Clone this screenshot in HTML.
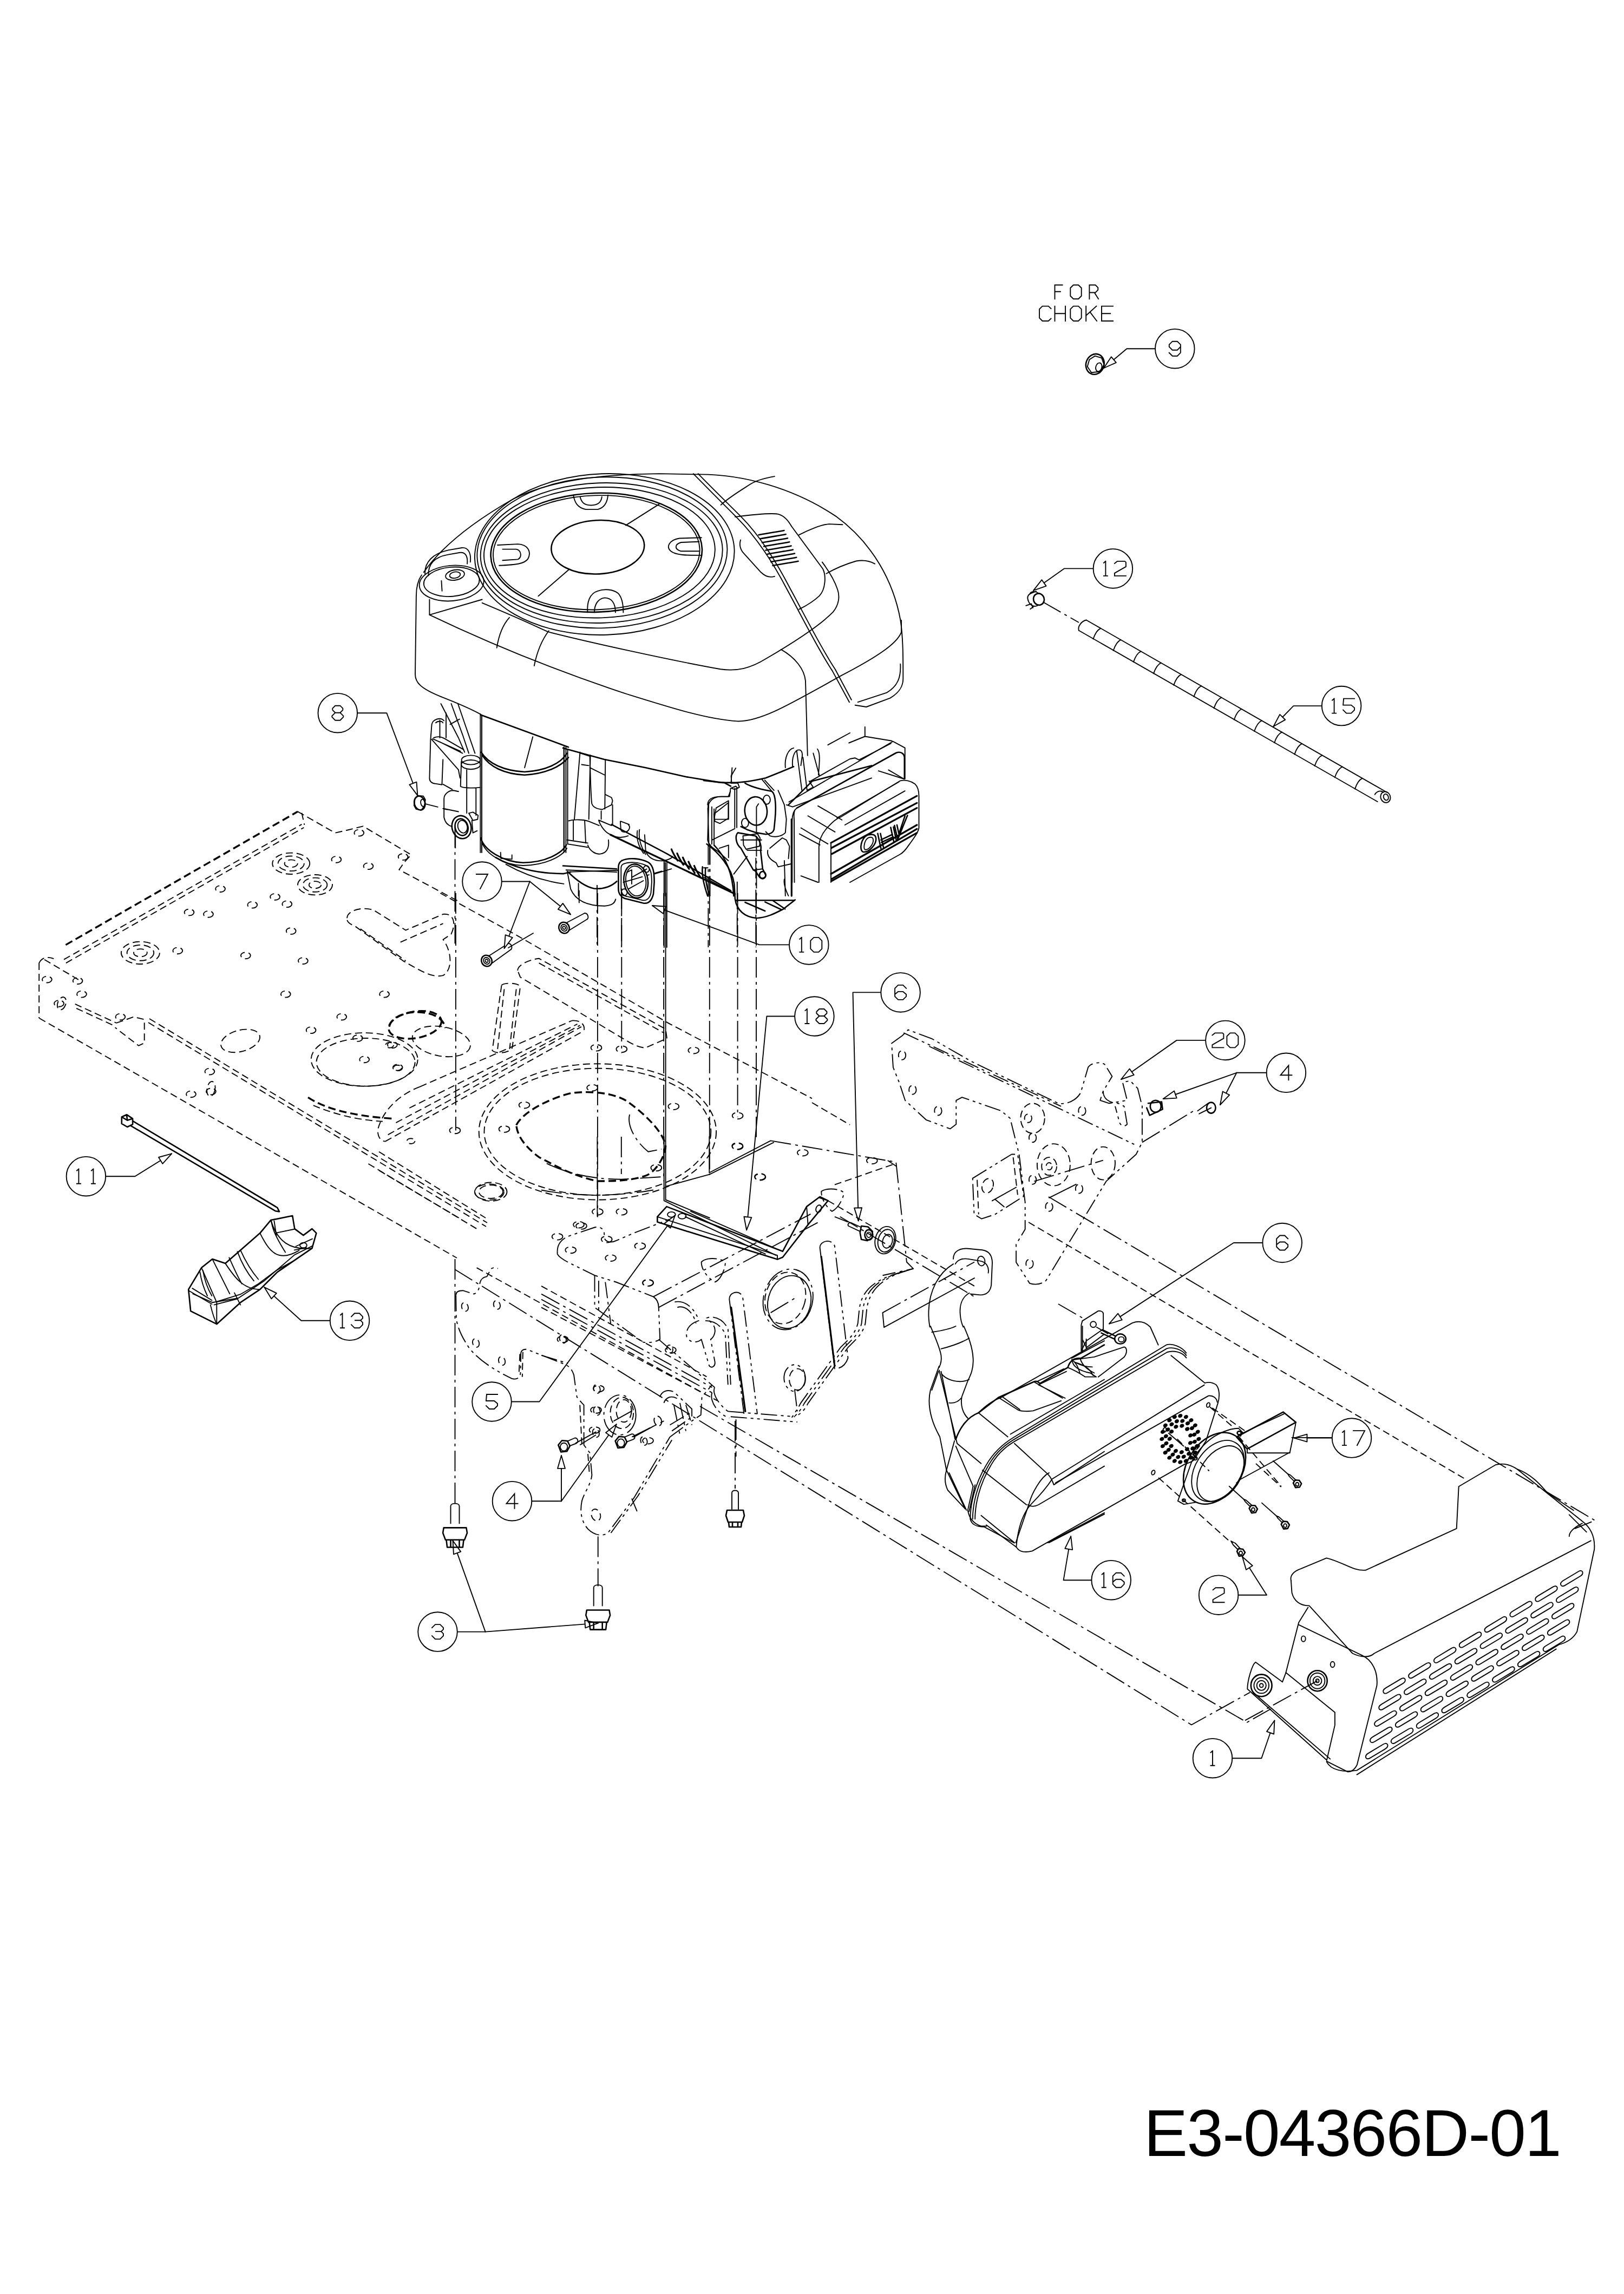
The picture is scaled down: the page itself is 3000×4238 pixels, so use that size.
<!DOCTYPE html>
<html><head><meta charset="utf-8"><title>E3-04366D-01</title><style>
html,body{margin:0;padding:0;background:#fff;}
svg{display:block}
svg *{vector-effect:non-scaling-stroke;fill:none;stroke:#000;stroke-width:1.9;stroke-linecap:round;stroke-linejoin:round}
svg .b{stroke-width:2.6}
svg .bb{stroke-width:3.2}
svg .g{stroke-width:1.9;stroke-linecap:square;stroke-linejoin:miter}
svg .ar{fill:#fff;stroke-width:1.9}
svg .d{stroke-dasharray:13 7;stroke-linecap:butt}
svg .db{stroke-width:3.4;stroke-dasharray:14 7;stroke-linecap:butt}
svg .dd{stroke-dasharray:38 8 5 8;stroke-linecap:butt}
svg .ph{stroke-dasharray:30 7 5 7 5 7;stroke-linecap:butt}
svg .f{fill:#000}
.t{position:absolute;left:2113px;top:3881px;letter-spacing:-1.7px;font-family:"Liberation Sans",sans-serif;font-size:121.5px;line-height:1;color:#000;white-space:nowrap}
</style></head>
<body><div style="position:relative;width:3000px;height:4238px;overflow:hidden;background:#fff">
<svg width="3000" height="4238" viewBox="0 0 3000 4238">
<path d="M 782.7,1057.3 C 809.1,1019.6 859.3,972.5 947.3,922.2 C 1016.3,887.7 1104.3,876.4 1217.3,875.1 L 1286.4,876.4 C 1374.3,875.1 1468.6,903.4 1543.9,953.6 C 1613,1003.9 1650.7,1076.1 1663.3,1145.2 C 1668.3,1176.6 1668.3,1214.3 1668.3,1253.8 C 1668.3,1267.7 1662,1279 1644.4,1289.6 L 1600.4,1306 L 1579.7,1302.8"/>
<path d="M 1663.3,1226.8 C 1664.5,1252 1658.2,1267.7 1638.1,1279.6 L 1584.7,1297.2"/>
<path d="M 778.9,1062.3 C 771.4,1073 768.9,1085.5 768.9,1101.2 L 767,1245.7 C 767,1261.4 777.7,1272.1 814.7,1287.1"/>
<path d="M 814.7,1287.1 C 840.5,1297.2 865.6,1307.2 888.2,1319.8"/>
<path d="M 1352.4,1418.4 L 1350.5,1446.7"/>
<path d="M 793.4,1135.8 C 865.6,1170.3 991.2,1226.8 1153.9,1280.9 C 1242.4,1308.5 1305.3,1328.6 1361.8,1332.4 C 1405.7,1333.6 1462.3,1299.1 1554,1248.2 C 1619.3,1214.3 1657,1189.2 1665.1,1167.8 L 1665.1,1145.8"/>
<path d="M 890.7,1113.8 C 928.4,1129.5 978.7,1151.5 1012,1167.2 C 1085.4,1186 1242.4,1220.6 1331,1236.3 C 1361.8,1240.7 1386.9,1234.4 1415.2,1216.8 C 1462.3,1189.2 1512.5,1157.8 1538.9,1130.7 C 1550.2,1116.9 1551.5,1101.2 1547.1,1088.7 C 1540.8,1069.8 1528.2,1051 1518.8,1038.4"/>
<path d="M 917.7,1196.7 C 920.9,1176.6 928.4,1154.6 941,1140.8"/>
<path d="M 986.8,1230 C 991.2,1208 1000.6,1182.9 1013.8,1165.3"/>
<path d="M 793.4,1107.5 L 793.4,1135.8 M 793.4,1135.8 L 890.7,1107.5"/>
<ellipse cx="1116.8" cy="1024" rx="239.9" ry="148.9" transform="rotate(-2 1116.8 1024)"/>
<ellipse cx="1112.4" cy="1020.8" rx="231.1" ry="139.4" transform="rotate(-2 1112.4 1020.8)"/>
<ellipse cx="1111.2" cy="1021.5" rx="223.6" ry="129.4" transform="rotate(-2 1111.2 1021.5)"/>
<ellipse cx="1107.4" cy="1020.8" rx="213.5" ry="120.6" transform="rotate(-2 1107.4 1020.8)"/>
<ellipse class="b" cx="1101.8" cy="1020.8" rx="195.3" ry="109.9" transform="rotate(-2 1101.8 1020.8)"/>
<ellipse cx="1101.8" cy="1020.8" rx="190.9" ry="105.5" transform="rotate(-2 1101.8 1020.8)"/>
<ellipse class="b" cx="1104.3" cy="1010.8" rx="86" ry="49.6" transform="rotate(-3 1104.3 1010.8)"/>
<path d="M 994.4,1101.2 L 1050.9,1052.2 M 1155.8,970.6 L 1217.3,931.6"/>
<path d="M 1059.1,914.7 C 1061.6,928.5 1066.6,937.9 1082.3,941.1 L 1104.3,941.1 C 1116.8,937.9 1121.9,928.5 1123.1,914.7 M 1071.6,917.8 C 1074.1,928.5 1079.2,932.9 1091.7,933.5 C 1104.3,932.9 1110.6,928.5 1111.8,917.8"/>
<path d="M 919,1007 L 956.7,1005.1 C 975.5,1005.8 981.8,1019.6 975.5,1032.1 C 969.2,1041.6 953.5,1043.4 922.1,1044.7 M 928.4,1014.6 L 953.5,1014.6 C 963,1016.4 964.8,1029 956.7,1033.4 L 928.4,1035.3"/>
<path d="M 1295.8,993.2 L 1255,994.5 C 1236.2,997.6 1229.9,1010.2 1239.3,1018.3 C 1248.7,1025.9 1267.6,1025.9 1295.8,1025.9 M 1291.4,1000.7 L 1258.2,1002 C 1245.6,1005.8 1245.6,1014.6 1258.2,1018.3 L 1291.4,1018.3"/>
<path d="M 1085.4,1131.4 C 1084.2,1113.8 1088.6,1096.2 1104.3,1091.8 C 1116.8,1087.4 1132.5,1088.7 1142,1096.2 C 1149.5,1104.4 1151.4,1116.9 1151.4,1131.4 M 1098,1131.4 C 1098,1116.9 1104.3,1106.2 1116.8,1104.4 C 1129.4,1104.4 1136.9,1113.8 1136.9,1131.4"/>
<ellipse cx="834.2" cy="1077.4" rx="59.7" ry="32.7" transform="rotate(-5 834.2 1077.4)"/>
<ellipse cx="834.2" cy="1074.8" rx="51.5" ry="27" transform="rotate(-5 834.2 1074.8)"/>
<path d="M 785.2,1060.4 C 784,1038.4 799.7,1022.7 827.9,1016.4 L 853.1,1012 C 865.6,1010.8 870.6,1022.7 868.8,1038.4"/>
<path d="M 791.5,1063.5 C 790.2,1041.6 802.8,1029 827.9,1024.6 L 849.9,1020.8 C 860.6,1019.6 864.4,1029 863.1,1041.6"/>
<ellipse cx="840.5" cy="1062.3" rx="17.6" ry="9.4" transform="rotate(-10 840.5 1062.3)"/>
<ellipse cx="840.5" cy="1062.3" rx="10" ry="5.7" transform="rotate(-10 840.5 1062.3)"/>
<path d="M 815.4,1073 L 816.6,1091.8"/>
<path d="M 1280.8,875.1 C 1305.3,900.2 1336.7,931.6 1361.8,956.8 C 1399.5,994.5 1430.9,1044.7 1454.1,1089.3 C 1481.1,1138.9 1512.5,1201.7 1537.6,1239.4 L 1569,1297.2"/>
<path d="M 1289.6,875.1 C 1312.8,899 1342.9,928.5 1368.1,953.6 C 1405.7,991.3 1435.9,1041.6 1459.1,1086.2 C 1486.1,1135.8 1517.5,1198.6 1542.7,1236.3 L 1572.8,1292.8"/>
<path d="M 1331.6,932.9 C 1346.1,919.1 1369.3,905.3 1386.9,894 C 1399.5,886.4 1415.2,882.7 1430.9,880.1"/>
<path d="M 1476.1,988.2 C 1493.7,978.8 1516.9,969.3 1531.4,968.1 L 1556.5,969.3"/>
<path d="M 1526.3,1059.8 C 1543.9,1049.7 1564,1041.6 1581.6,1036.5 C 1595.4,1034 1606.7,1036.5 1616.1,1041.6"/>
<path d="M 1358,954.9 C 1393.2,950.5 1424.6,947.3 1437.8,949.9 C 1449.7,953.6 1456,961.8 1462.3,972.5 L 1520.1,1051 C 1526.3,1063.5 1525.1,1088.7 1513.8,1100.6 C 1503.1,1110.6 1487.4,1120.1 1476.1,1125.7"/>
<path d="M 1368.1,997.6 C 1364.9,1007 1368.1,1016.4 1374.3,1022.7 L 1405.7,1057.3 C 1415.2,1066.7 1424.6,1066.7 1430.9,1064.8"/>
<path class="b" d="M 1401.3,988.2 C 1417.1,985 1435.9,982.5 1448.5,980"/>
<path class="b" d="M 1404.6,995.3 C 1420.3,992.1 1439.2,989.6 1451.7,987.1"/>
<path class="b" d="M 1407.9,1002.4 C 1423.6,999.2 1442.4,996.7 1455,994.2"/>
<path class="b" d="M 1411.1,1009.5 C 1426.8,1006.3 1445.7,1003.8 1458.3,1001.3"/>
<path class="b" d="M 1414.4,1016.6 C 1430.1,1013.4 1449,1010.9 1461.5,1008.4"/>
<path class="b" d="M 1417.7,1023.7 C 1433.4,1020.5 1452.2,1018 1464.8,1015.5"/>
<path class="b" d="M 1420.9,1030.8 C 1436.6,1027.6 1455.5,1025.1 1468,1022.6"/>
<path class="b" d="M 1424.2,1037.9 C 1439.9,1034.7 1458.8,1032.2 1471.3,1029.7"/>
<path class="b" d="M 1427.5,1045 C 1443.2,1041.8 1462,1039.3 1474.6,1036.8"/>
<path d="M 1442.8,1199.8 C 1468.6,1214.3 1486.1,1236.3 1488,1258.2 L 1491.8,1395.8"/>
<path d="M 1457.4,1481.5 L 1649.5,1369.7 L 1671.7,1381.7 L 1671.7,1439"/>
<path d="M 1496.2,1443.6 L 1570.1,1402 L 1579.3,1400.2 L 1586.7,1403.9 L 1607,1393.7 L 1645.8,1373.4"/>
<path d="M 1568.2,1372.5 L 1597.8,1360.5 L 1647.7,1368.8 M 1597.8,1360.5 L 1597.8,1342.9 M 1529.4,1376.2 L 1570.1,1354"/>
<path class="b" d="M 1472.2,1492.6 L 1655.1,1391 C 1664.3,1387.3 1670.8,1392.8 1670.8,1400.2 L 1670.8,1439"/>
<path d="M 1472.2,1492.6 C 1464.8,1498.1 1463.3,1507.3 1463.3,1516.6 L 1463.3,1630 M 1468.5,1496.3 C 1465.7,1501.8 1466.6,1507.3 1467,1514.7 L 1467.5,1630"/>
<path d="M 1512.8,1568.3 C 1511.9,1551.7 1520.2,1536.9 1531.3,1525.8 C 1538.7,1518.4 1544.2,1512.9 1553.4,1509.2 L 1662.4,1442.7 C 1671.7,1439.9 1682.8,1442.7 1690.1,1448.2 C 1695.7,1453.8 1697.5,1463 1697.5,1470.4 L 1697.5,1529.5 C 1695.7,1538.7 1688.3,1548 1679.1,1560.9 C 1671.7,1572 1668,1575.7 1662.4,1578.5 L 1570.1,1630"/>
<path d="M 1512.8,1568.3 L 1512.8,1630 M 1535,1557.2 L 1535,1630"/>
<path d="M 1492.5,1507.3 L 1542.4,1536.9"/>
<path d="M 1479.6,1529.5 L 1529.4,1559.1"/>
<path d="M 1476.8,1540.6 L 1514.7,1560.9"/>
<path d="M 1511,1488.9 L 1555.3,1514.7"/>
<path d="M 1622.7,1424.2 L 1669.8,1439"/>
<path d="M 1641.2,1422.4 L 1669.8,1439"/>
<path d="M 1546.1,1511 L 1660.6,1444.5"/>
<path d="M 1560.8,1524 L 1671.7,1461.2"/>
<path d="M 1479.6,1618.2 L 1511,1630"/>
<path class="bb" d="M 1535,1557.2 L 1693.8,1470.4"/>
<path class="bb" d="M 1535.9,1566.5 L 1693.8,1483.3"/>
<path class="bb" d="M 1536.8,1577.5 L 1693.8,1492.6"/>
<path class="bb" d="M 1535,1614.5 L 1693.8,1524"/>
<path class="bb" d="M 1536.8,1623.7 L 1693.8,1531.4"/>
<path class="bb" d="M 1536.8,1627.4 L 1693.8,1538.7"/>
<path class="b" d="M 1603.3,1542.4 C 1590.4,1548 1586.7,1570.1 1594.1,1573.8 C 1605.2,1575.7 1620,1559.1 1618.1,1548 C 1617.2,1541.5 1610.7,1540.6 1603.3,1542.4 Z"/>
<path d="M 1604.2,1547.6 C 1596.3,1551.7 1594.5,1567.9 1598.2,1569.8 C 1605.2,1570.1 1614,1559.1 1613.1,1551.1 C 1612.4,1546.5 1608.9,1545.8 1604.2,1547.6 Z"/>
<path class="b" d="M 1621.4,1539.7 L 1627.3,1567.4 M 1626.4,1539.7 L 1632,1565.5 M 1645.4,1528.6 L 1651.4,1556.3 M 1650.4,1527.7 L 1656,1553.5 M 1627.3,1551.7 L 1648.6,1541.5 M 1628.3,1556.3 L 1649.9,1546.1"/>
<path class="b" d="M 1652.3,1524.9 L 1658.4,1550.8 L 1676.3,1506.4 M 1656.9,1524 L 1660.6,1540.6 L 1671.7,1507.3"/>
<path d="M 887.4,1319.1 L 887.4,1575.1 M 890,1321 L 890,1575.1"/>
<path class="b" d="M 888.9,1389.7 C 902.3,1410.7 930.9,1424.1 969.1,1426 C 1007.2,1424.1 1035.9,1410.7 1047.3,1391.6"/>
<path class="b" d="M 890.8,1395.4 C 904.2,1416.4 930.9,1429.8 969.1,1431.7 C 1007.2,1429.8 1035.9,1416.4 1050,1399.3"/>
<path d="M 984.3,1361.1 L 969.1,1418.3"/>
<path d="M 1041.6,1380.2 L 1041.6,1575.1 M 1045.4,1380.2 L 1045.4,1575.1"/>
<path class="b" d="M 888.9,1321 L 1050,1380.2"/>
<path d="M 814.4,1300 L 846.9,1363 L 858.3,1389.7 M 833.5,1300 L 854.5,1357.3 L 866,1391.6 M 845.9,1300 L 877.4,1391.6"/>
<ellipse cx="869.8" cy="1404" rx="17.2" ry="8.6"/>
<ellipse cx="869.8" cy="1412.6" rx="17.6" ry="8.6"/>
<path d="M 852.2,1406.9 L 850.7,1452.7 C 854.5,1455.6 873.6,1456.5 887.4,1454.6 M 862.2,1422.2 L 862.2,1502.3 M 879.3,1456.5 L 879.3,1506.2"/>
<path d="M 803,1330.5 C 799.2,1332.5 797.3,1336.3 797.3,1342 L 795.4,1366.8 L 793.4,1437.4 C 793.4,1443.2 797.3,1447 804.9,1447.9 L 816.4,1449.8 L 818.3,1403.1"/>
<path d="M 797.3,1365.9 L 846.9,1422.2 L 849.8,1437.4 M 812.5,1370.6 L 854.5,1391.6 M 799.2,1364.9 L 850.7,1387.8 M 801.1,1363 C 806.8,1360.7 814.4,1360.7 820.2,1363.9 L 856.4,1384.9"/>
<path d="M 803,1330.5 C 808.7,1326.7 816.4,1326.7 820.2,1331.5 M 804.9,1335.3 C 808.7,1331.5 816.4,1331.5 818.3,1335.3 M 812.5,1330.5 L 812.5,1363 M 824,1317.2 L 824,1363 M 831.6,1338.2 L 848.8,1328.6"/>
<path d="M 818.3,1448.9 L 835.4,1458.4"/>
<path d="M 820.2,1475.6 C 820.2,1466.1 829.7,1460.3 837.4,1460.3 L 846.9,1462.3 M 820.2,1475.6 L 820.2,1510 C 822.1,1519.5 827.8,1525.2 835.4,1527.2 M 819.2,1493.8 L 846.9,1499.5"/>
<ellipse class="b" cx="852.6" cy="1528.1" rx="17.6" ry="21.4" transform="rotate(-15 852.6 1528.1)"/>
<ellipse class="b" cx="852.6" cy="1528.1" rx="11.8" ry="15.7" transform="rotate(-15 852.6 1528.1)"/>
<ellipse cx="854.5" cy="1527.2" rx="8.6" ry="11.8" transform="rotate(-15 854.5 1527.2)"/>
<path d="M 866,1502.3 L 873.6,1500.4 L 883.2,1506.2 L 882.2,1513.8 L 873.6,1515.7 Z M 871.7,1515.7 L 873.6,1538.6 L 881.3,1534.8"/>
<ellipse class="b" cx="775.3" cy="1483.6" rx="9.9" ry="13" transform="rotate(-15 775.3 1483.6)"/>
<path d="M 766.7,1475.6 L 772.5,1469.9 L 782,1470.8 L 785.8,1477.5 L 783.9,1489 L 778.2,1496.6 L 768.6,1494.7 L 764.8,1488 Z"/>
<ellipse cx="781" cy="1483.3" rx="3.8" ry="6.7" transform="rotate(-10 781 1483.3)"/>
<path d="M 785.8,1485.2 L 808.7,1490.9 M 818.3,1493.8 L 825.9,1495.7"/>
<path class="dd" d="M 841.2,1540.5 L 841.2,1567.2"/>
<path class="b" d="M 1040,1381.9 L 1116.4,1402.9 L 1192.7,1418.2 L 1269.1,1435.4 L 1326.3,1444.9 L 1337.8,1445.9 L 1350,1452.5"/>
<path d="M 1041.9,1380 L 1041.9,1570.9 M 1048.6,1385.7 L 1048.6,1559.4"/>
<path d="M 1071.5,1389.5 L 1061,1513.6 M 1090.6,1395.3 L 1087.7,1513.6 M 1118.3,1402.9 L 1117.3,1494.5"/>
<path d="M 1089.6,1395.3 C 1090.6,1437.3 1091.5,1475.4 1093.4,1485 C 1095.4,1490.7 1103,1494.5 1112.5,1495.5 L 1129.7,1486.9 L 1131.6,1479.3 L 1129.7,1473.5 L 1118.3,1467.8"/>
<path d="M 1110.6,1498.3 L 1110.6,1513.6 M 1131.6,1486.9 L 1131.6,1523.2 M 1072.5,1391.5 L 1089.6,1397.2 M 1074.4,1412.5 L 1087.7,1414.4 M 1089.6,1418.2 L 1116.4,1431.5"/>
<path d="M 1050.5,1516.5 C 1059.1,1513.6 1078.2,1513.6 1087.7,1517.4 L 1106.8,1525.1 M 1059.1,1515.5 L 1059.1,1551.8 M 1080.1,1516.5 L 1082,1557.5"/>
<path d="M 1085.8,1561.3 C 1089.6,1572.8 1101.1,1578.5 1108.7,1577.6 C 1120.2,1576.6 1125.9,1567.1 1124,1551.8 M 1047.6,1551.8 L 1085.8,1557.5 M 1049.5,1559.4 L 1085.8,1565.2"/>
<path class="bb" d="M 1127.8,1542.3 L 1357.8,1651.6"/>
<path class="b" d="M 1129.7,1523.2 L 1230.9,1576.6 L 1350,1645.3"/>
<path d="M 1105.9,1515.5 C 1110.6,1528.9 1120.2,1540.3 1129.7,1542.3 M 1106.8,1515.5 L 1129.7,1525.1"/>
<path d="M 1145.9,1517.4 L 1146.9,1532.7 C 1148.8,1538.4 1158.3,1539.4 1162.2,1531.8 C 1164.1,1527 1162.2,1525.1 1160.3,1523.2 M 1146.9,1517.4 L 1162.2,1523.2 M 1129.7,1542.3 C 1139.3,1548 1150.7,1548 1160.3,1544.2"/>
<path d="M 1177.4,1534.6 C 1175.5,1548 1179.3,1563.3 1188.9,1576.6 M 1181.3,1532.7 C 1179.3,1546.1 1182.2,1561.3 1192.7,1578.5"/>
<path d="M 1190.8,1542.3 L 1192.7,1570.9 C 1196.5,1586.2 1211.8,1591.9 1227.1,1590 C 1236.6,1588.1 1242.3,1584.2 1242.3,1582.3"/>
<path class="bb" d="M 1240.4,1569 C 1244.2,1578.5 1248.1,1584.2 1251.9,1590"/>
<path class="bb" d="M 1250.9,1576.6 C 1254.7,1586.2 1258.6,1591.9 1262.4,1597.6"/>
<path class="bb" d="M 1261.4,1584.2 C 1265.2,1593.8 1269.1,1599.5 1272.9,1605.2"/>
<path class="bb" d="M 1271.9,1591.9 C 1275.7,1601.4 1279.6,1607.2 1283.4,1612.9"/>
<path class="bb" d="M 1282.4,1599.5 C 1286.2,1609.1 1290.1,1614.8 1293.9,1620.5"/>
<path class="b" d="M 1297.7,1601.4 C 1295.8,1618.6 1301.5,1637.7 1307.2,1655.1 M 1303.4,1603.3 C 1301.5,1620.5 1305.3,1637.7 1311.1,1655.1"/>
<path class="dd" d="M 1311.1,1559.4 L 1311.1,1655.1"/>
<path d="M 1307.2,1486.9 C 1307.2,1475.4 1316.8,1471.6 1332.1,1471.6 L 1345.4,1471.6 L 1349.2,1462.1 M 1309.2,1483.1 L 1307.2,1551.8 C 1309.2,1561.3 1316.8,1567.1 1326.3,1572.8 L 1345.4,1590"/>
<path d="M 1318.7,1504.1 L 1345.4,1483.1 L 1345.4,1511.7 L 1330.1,1521.3 L 1320.6,1517.4 Z M 1314.9,1490.7 L 1314.9,1559.4"/>
<path class="b" d="M 1040,1599.5 L 1139.3,1605.2"/>
<path d="M 1045.7,1607.2 L 1139.3,1611"/>
<path class="b" d="M 1049.5,1611 C 1059.1,1620.5 1078.2,1637.7 1097.3,1641.5 C 1116.4,1643.4 1131.6,1635.8 1139.3,1628.2"/>
<path d="M 1068.6,1632 L 1068.6,1655.1 M 1208,1614.8 L 1240.4,1605.2 M 1229,1593.8 L 1229,1655.1"/>
<path class="dd" d="M 1150.7,1630.1 L 1223.3,1609.1"/>
<path class="b" d="M 1300,1442 L 1334.4,1445.9 L 1353.4,1445.9 C 1366.8,1445.9 1385.9,1443.9 1414.5,1437.3 L 1443.2,1425.8 L 1466.1,1416.3"/>
<path d="M 1351.5,1446.8 L 1350.6,1433.4 L 1359.2,1419.1 M 1350.6,1446.8 L 1363,1446.8 L 1365.9,1454.4 L 1357.3,1458.3 L 1351.5,1456.4"/>
<path class="b" d="M 1376.4,1446.8 C 1391.6,1456.4 1418.3,1460.2 1426,1462.1 C 1433.6,1467.8 1433.6,1494.5 1431.7,1513.6 L 1429.8,1532.7 C 1427.9,1538.4 1422.2,1541.3 1414.5,1541.3 L 1397.4,1538.4 L 1380.2,1532.7 L 1368.7,1527"/>
<path d="M 1406.9,1439.2 L 1426,1462.1 M 1412.6,1441.1 L 1429.8,1460.2"/>
<ellipse class="b" cx="1396.4" cy="1498.3" rx="20.6" ry="26.3" transform="rotate(-5 1396.4 1498.3)"/>
<ellipse cx="1416.4" cy="1477.4" rx="6.5" ry="8.4"/>
<ellipse cx="1376.4" cy="1520.3" rx="6.5" ry="8.4"/>
<path d="M 1397.4,1490.7 L 1397.4,1540.3 M 1401.2,1485 L 1397.4,1490.7"/>
<path class="dd" d="M 1397.4,1544.2 L 1397.4,1655.1"/>
<path class="b" d="M 1363,1538.4 C 1357.3,1544.2 1359.2,1559.4 1368.7,1567.1 L 1391.6,1607.2 L 1395.4,1609.1 L 1403.1,1620.5 C 1406.9,1624.3 1414.5,1622.4 1414.5,1616.7 L 1408.8,1605.2 L 1405,1570.9 C 1406.9,1565.2 1405,1551.8 1395.4,1544.2 Z"/>
<path d="M 1372.5,1544.2 L 1399.3,1540.3 L 1404,1548 L 1403.1,1563.3 L 1378.3,1569 L 1373.5,1561.3 Z M 1368.7,1551.8 L 1406.9,1551.8 M 1380.2,1570.9 L 1406.9,1570.9 M 1391.6,1607.2 L 1408.8,1605.2"/>
<ellipse class="b" cx="1408.8" cy="1616.7" rx="5.7" ry="6.7"/>
<path d="M 1307.6,1494.5 C 1307.6,1479.3 1319.1,1471.6 1332.5,1471.6 L 1347.7,1471.6 L 1349.6,1456.4 L 1359.2,1452.5 L 1363,1456.4"/>
<path d="M 1319.1,1513.6 L 1345.8,1513.6 L 1345.8,1479.3 L 1322.9,1492.6 Z M 1357.3,1456.4 L 1357.3,1528.9 M 1361.1,1456.4 L 1361.1,1528.9 M 1319.1,1494.5 L 1319.1,1561.3 M 1307.6,1494.5 L 1309.5,1559.4"/>
<path class="dd" d="M 1311.5,1559.4 L 1311.5,1655.1"/>
<path class="b" d="M 1319.1,1561.3 C 1338.2,1580.4 1353.4,1609.1 1355.4,1655.1"/>
<path d="M 1300,1603.3 L 1307.6,1603.3 M 1328.6,1567.1 L 1345.8,1561.3 L 1345.8,1584.2 M 1355.4,1614.8 L 1380.2,1582.3 M 1315.3,1551.8 L 1357.3,1530.8 M 1300,1620.5 L 1357.3,1651.1"/>
<path d="M 1414.5,1536.5 L 1422.2,1544.2 C 1433.6,1548 1445.1,1544.2 1450.8,1538.4 L 1452.7,1513.6 L 1448.9,1486.9 L 1437.4,1460.2"/>
<path d="M 1418.3,1570.9 C 1416.4,1580.4 1422.2,1588.1 1433.6,1593.8 L 1437.4,1601.4 L 1462.3,1595.7 M 1422.2,1567.1 L 1445.1,1548 L 1452.7,1551.8 L 1458.4,1563.3 L 1456.5,1586.2"/>
<path class="bb" d="M 1462.3,1513.6 L 1462.3,1655.1"/>
<path class="b" d="M 1456.5,1486.9 L 1496.6,1446.8 L 1500.4,1443 L 1610,1414.4"/>
<path d="M 1452.7,1486.9 L 1464.2,1490.7 L 1610,1437.3"/>
<path d="M 1450.8,1418.2 C 1448.9,1399.1 1456.5,1383.8 1466.1,1381.9 M 1464.2,1416.3 C 1462.3,1399.1 1468,1387.6 1473.7,1385.7 C 1481.3,1383.8 1483.3,1391.5 1481.3,1401 L 1479.4,1414.4 M 1471.8,1387.6 L 1481.3,1460.2 M 1483.3,1399.1 L 1490.9,1460.2"/>
<path d="M 1494.7,1443 L 1502.3,1454.4 L 1490.9,1460.2 M 1502.3,1391.5 L 1513.8,1433.4 M 1510,1383.8 C 1515.7,1391.5 1513.8,1408.6 1511.9,1431.5"/>
<path d="M 1448.9,1624.3 C 1447,1633.9 1452.7,1647.2 1456.5,1655.1 M 1448.9,1590 L 1450.8,1655.1"/>
<path class="b" d="M 888.2,1548.1 C 893.9,1570.1 928.4,1592.1 966.1,1593.7 C 1007,1593.7 1038.4,1576.4 1046.2,1560.7"/>
<path d="M 890.1,1556 C 897,1576.4 928.4,1598.4 966.1,1599 C 1007,1598.4 1038.4,1582.7 1047.2,1567"/>
<path d="M 924.7,1574.8 L 925.3,1585.8 L 945.7,1587.4 L 945.7,1579.5"/>
<path class="b" d="M 915.9,1584.2 C 944.1,1601.5 991.3,1614.1 1041.5,1614.1 L 1054.1,1610.9"/>
<path d="M 934.7,1596.8 C 959.8,1610.9 997.5,1626.6 1041.5,1632.9"/>
<path d="M 1047.8,1609.4 L 1054.1,1642.3 C 1063.5,1664.3 1085.5,1673.7 1116.9,1673.7 C 1132.6,1672.2 1135.7,1667.5 1137.3,1661.2"/>
<path d="M 1069.8,1645.5 L 1069.8,1667.5 M 1049.4,1610.9 L 1142,1607.8"/>
<ellipse class="b" cx="1042" cy="1714" rx="9.5" ry="10.5" transform="rotate(-30 1042 1714)"/>
<ellipse cx="1042" cy="1714" rx="5.5" ry="6.5" transform="rotate(-30 1042 1714)"/>
<ellipse cx="1042" cy="1714" rx="2.5" ry="3" transform="rotate(-30 1042 1714)"/>
<path d="M 1046,1705 L 1080,1687 M 1051,1719 L 1085,1698"/>
<path d="M 1080,1687 C 1086,1687 1088,1695 1085,1698"/>
<ellipse class="b" cx="899" cy="1775" rx="9.5" ry="10.5" transform="rotate(-30 899 1775)"/>
<ellipse cx="899" cy="1775" rx="5.5" ry="6.5" transform="rotate(-30 899 1775)"/>
<ellipse cx="899" cy="1775" rx="2.5" ry="3" transform="rotate(-30 899 1775)"/>
<path d="M 903,1766 L 939,1743 M 908,1780 L 944,1754"/>
<path d="M 939,1743 C 945,1743 947,1751 944,1754"/>
<path d="M 939,1751 L 985,1724"/>
<path class="dd" d="M 840.5,1528.3 L 840.5,1750"/>
<path class="dd" d="M 1103,1635.1 L 1103,1750"/>
<path class="dd" d="M 1148.2,1641.4 L 1148.2,1750"/>
<path class="dd" d="M 1308.4,1559.7 L 1308.4,1750"/>
<path class="dd" d="M 1361.8,1628.8 L 1361.8,1750"/>
<path class="dd" d="M 1396.3,1584.8 L 1396.3,1750"/>
<path d="M 1226.7,1591.1 L 1226.7,1750 M 1231.8,1594.3 L 1231.8,1750"/>
<path class="b" d="M 1305.5,1559.2 C 1327.1,1574.6 1351.7,1602.3 1356.3,1633.1 L 1357.9,1660.8 C 1361,1682.4 1376.4,1694.7 1397.9,1696.2 C 1419.5,1694.7 1434.9,1685.5 1447.2,1679.3 L 1468.7,1662.4"/>
<path class="b" d="M 1359.4,1663.3 L 1467.2,1663.3 M 1376.4,1667 L 1413.3,1683 M 1413.3,1666.4 L 1444.1,1680.8 M 1428.7,1664.5 L 1450.2,1679.3"/>
<path class="b" d="M 1148.5,1590 C 1160.8,1583.9 1182.4,1585.4 1197.8,1593.1 C 1207,1599.3 1208.6,1611.6 1208.6,1630 L 1207,1651.6 C 1203.9,1663.9 1197.8,1670.1 1188.5,1668.5 L 1157.8,1660.8 C 1148.5,1659.3 1142.4,1651.6 1142.4,1642.4 L 1142.4,1602.3 C 1142.4,1596.2 1143.9,1593.1 1148.5,1590 Z"/>
<path d="M 1151.6,1596.2 C 1162.4,1591.6 1179.3,1592.5 1193.2,1598.6 C 1202.4,1603.9 1203.9,1613.1 1203.9,1630 L 1202.4,1650.1 C 1200.2,1659.3 1194.7,1663.9 1187.9,1663.3 L 1158.4,1656.2 C 1151,1654.7 1147.3,1649.1 1147.3,1641.7 L 1147.3,1603.9 C 1147.3,1599.9 1148.5,1597.7 1151.6,1596.2 Z"/>
<ellipse class="b" cx="1174.7" cy="1627.6" rx="22.2" ry="31.4" transform="rotate(-8 1174.7 1627.6)"/>
<ellipse cx="1174.7" cy="1627.6" rx="18.5" ry="27.7" transform="rotate(-8 1174.7 1627.6)"/>
<ellipse cx="1194.1" cy="1605.4" rx="5.5" ry="6.2"/>
<ellipse cx="1153.1" cy="1648.5" rx="5.5" ry="6.2"/>
<path d="M 1157.8,1611.6 L 1167,1607 L 1167,1633.1 M 1167,1620.8 L 1194.7,1605.4 M 1160.8,1642.4 L 1188.5,1627"/>
<path class="g" d="M 1962.6,526.5 L 1948.5,526.5 L 1948.5,552.3 M 1948.5,538.7 L 1958.9,538.7"/>
<path class="g" d="M 1982.9,526.5 L 1992.1,526.5 L 1997.7,532 L 1997.7,546.8 L 1992.1,552.3 L 1982.9,552.3 L 1977.3,546.8 L 1977.3,532 Z"/>
<path class="g" d="M 2012.4,552.3 L 2012.4,526.5 L 2023.5,526.5 L 2028.3,531.3 L 2028.3,535.7 L 2023.5,540.5 L 2012.4,540.5 M 2021.7,540.5 L 2029.1,552.3"/>
<path class="g" d="M 1941.5,570.1 L 1936.7,565.6 L 1925.6,565.6 L 1920.1,571.2 L 1920.1,587.4 L 1925.6,593 L 1936.7,593 L 1941.5,588.5"/>
<path class="g" d="M 1948.5,565.6 L 1948.5,593 M 1968.1,565.6 L 1968.1,593 M 1948.5,579.3 L 1968.1,579.3"/>
<path class="g" d="M 1982.9,565.6 L 1992.1,565.6 L 1997.7,571.2 L 1997.7,587.4 L 1992.1,593 L 1982.9,593 L 1977.3,587.4 L 1977.3,571.2 Z"/>
<path class="g" d="M 2006.2,565.6 L 2006.2,593 M 2025.4,565.6 L 2006.2,583 M 2013.5,576.4 L 2026.1,593"/>
<path class="g" d="M 2056,565.6 L 2035,565.6 L 2035,593 L 2056,593 M 2035,579.3 L 2051.2,579.3"/>
<ellipse class="b" cx="2022.8" cy="672.8" rx="16.6" ry="19.2" transform="rotate(20 2022.8 672.8)"/>
<path d="M 2012.4,664.3 L 2022.8,657.6 L 2035,661.3 L 2039.4,673.5 L 2032.8,686.5 L 2016.1,688.3 L 2008.7,677.2 Z"/>
<ellipse cx="2029.8" cy="678.3" rx="5.5" ry="8.1" transform="rotate(15 2029.8 678.3)"/>
<circle cx="2170.3" cy="644.2" r="36.3"/>
<path class="g" d="M 2180.8,640.7 L 2174.8,646.7 L 2165.8,646.7 L 2159.8,640.7 L 2159.8,636.7 L 2165.8,630.7 L 2174.8,630.7 L 2180.8,636.7 L 2180.8,651.7 L 2174.8,657.7 L 2165.8,657.7 L 2159.8,651.7"/>
<path d="M2133.8,644.2 L2081.5,644.2 L2039,680"/>
<path class="ar" d="M2039,680 L2052.8,659.2 L2061.9,669.9 Z"/>
<circle cx="2055.9" cy="1050.4" r="36.3"/>
<path class="g" d="M 2042.4,1036.9 L 2042.4,1063.9 M 2038.9,1063.9 L 2045.9,1063.9 M 2042.4,1036.9 L 2038.9,1039.9"/>
<path class="g" d="M 2058.9,1040.9 L 2063.9,1036.9 L 2077.9,1036.9 L 2079.9,1038.9 L 2079.9,1046.9 L 2058.9,1058.9 L 2058.9,1063.9 L 2079.9,1063.9"/>
<path d="M2019.6,1050.4 L1965.8,1050.4 L1909,1090.8"/>
<path class="ar" d="M1909,1090.8 L1924.5,1071.2 L1932.6,1082.6 Z"/>
<circle cx="2478.1" cy="1304.1" r="36.3"/>
<path class="g" d="M 2464.6,1290.6 L 2464.6,1317.6 M 2461.1,1317.6 L 2468.1,1317.6 M 2464.6,1290.6 L 2461.1,1293.6"/>
<path class="g" d="M 2502.1,1290.6 L 2482.1,1290.6 L 2481.1,1302.6 L 2496.1,1302.6 L 2502.1,1307.6 L 2502.1,1311.6 L 2496.1,1317.6 L 2487.1,1317.6 L 2481.1,1311.6"/>
<path d="M2441.8,1304.1 L2389.4,1304.1 L2352.5,1342"/>
<path class="ar" d="M2352.5,1342 L2364.2,1319.9 L2374.3,1329.7 Z"/>
<circle cx="623.8" cy="1317.2" r="36.3"/>
<path class="g" d="M 619.3,1303.7 L 628.3,1303.7 L 633.3,1308.7 L 633.3,1311.7 L 628.3,1316.7 L 619.3,1316.7 L 614.3,1311.7 L 614.3,1308.7 Z M 619.3,1316.7 L 628.3,1316.7 L 634.3,1322.7 L 634.3,1324.7 L 628.3,1330.7 L 619.3,1330.7 L 613.3,1324.7 L 613.3,1322.7 Z"/>
<path d="M660.1,1317.2 L714.3,1317.2 L771.4,1469.6"/>
<path class="ar" d="M771.4,1469.6 L756.4,1449.6 L769.5,1444.7 Z"/>
<circle cx="890.5" cy="1628.5" r="36.3"/>
<path class="g" d="M 880,1615 L 901,1615 L 887,1642"/>
<path d="M926.8,1628.5 L978.7,1628.5"/>
<path d="M978.7,1628.5 L1054,1689.4"/>
<path class="ar" d="M1054,1689.4 L1030.9,1679.8 L1039.7,1668.9 Z"/>
<path d="M978.7,1628.5 L931.6,1752"/>
<path class="ar" d="M931.6,1752 L933.6,1727.1 L946.7,1732.1 Z"/>
<circle cx="1494.3" cy="1745.4" r="36.3"/>
<path class="g" d="M 1480.8,1731.9 L 1480.8,1758.9 M 1477.3,1758.9 L 1484.3,1758.9 M 1480.8,1731.9 L 1477.3,1734.9"/>
<path class="g" d="M 1503.3,1731.9 L 1512.3,1731.9 L 1518.3,1737.9 L 1518.3,1752.9 L 1512.3,1758.9 L 1503.3,1758.9 L 1497.3,1752.9 L 1497.3,1737.9 Z"/>
<path d="M1458,1745.4 L1402.8,1745.4 L1205,1673"/>
<path class="ar" d="M1205,1673 L1229.9,1674.7 L1225.1,1687.8 Z"/>
<circle cx="1663.6" cy="1833.4" r="36.3"/>
<path class="g" d="M 1674.1,1825.9 L 1668.1,1819.9 L 1659.1,1819.9 L 1653.1,1825.9 L 1653.1,1840.9 L 1659.1,1846.9 L 1668.1,1846.9 L 1674.1,1840.9 L 1674.1,1836.9 L 1668.1,1831.9 L 1659.1,1831.9 L 1653.1,1836.9"/>
<path d="M1627.3,1833.4 L1575.5,1833.4 L1585.7,2255.4"/>
<path class="ar" d="M1585.7,2255.4 L1578.1,2231.6 L1592.1,2231.2 Z"/>
<circle cx="1504.4" cy="1877.5" r="36.3"/>
<path class="g" d="M 1490.9,1864 L 1490.9,1891 M 1487.4,1891 L 1494.4,1891 M 1490.9,1864 L 1487.4,1867"/>
<path class="g" d="M 1513.4,1864 L 1522.4,1864 L 1527.4,1869 L 1527.4,1872 L 1522.4,1877 L 1513.4,1877 L 1508.4,1872 L 1508.4,1869 Z M 1513.4,1877 L 1522.4,1877 L 1528.4,1883 L 1528.4,1885 L 1522.4,1891 L 1513.4,1891 L 1507.4,1885 L 1507.4,1883 Z"/>
<path d="M1468.1,1877.5 L1416.4,1877.5 L1379.1,2272.3"/>
<path class="ar" d="M1379.1,2272.3 L1374.4,2247.7 L1388.3,2249.1 Z"/>
<circle cx="2263.4" cy="1921.9" r="36.3"/>
<path class="g" d="M 2239.4,1912.4 L 2244.4,1908.4 L 2258.4,1908.4 L 2260.4,1910.4 L 2260.4,1918.4 L 2239.4,1930.4 L 2239.4,1935.4 L 2260.4,1935.4"/>
<path class="g" d="M 2272.4,1908.4 L 2281.4,1908.4 L 2287.4,1914.4 L 2287.4,1929.4 L 2281.4,1935.4 L 2272.4,1935.4 L 2266.4,1929.4 L 2266.4,1914.4 Z"/>
<path d="M2227.1,1921.9 L2173.6,1921.9 L2071,1994"/>
<path class="ar" d="M2071,1994 L2086.6,1974.5 L2094.7,1985.9 Z"/>
<circle cx="2375.9" cy="1981.8" r="36.3"/>
<path class="g" d="M 2380.4,1995.3 L 2380.4,1968.3 L 2365.4,1986.3 L 2386.4,1986.3"/>
<path d="M2339.6,1981.8 L2284.4,1981.8"/>
<path d="M2284.4,1981.8 L2148.7,2030"/>
<path class="ar" d="M2148.7,2030 L2169,2015.4 L2173.7,2028.6 Z"/>
<path d="M2284.4,1981.8 L2254,2041"/>
<path class="ar" d="M2254,2041 L2258.7,2016.5 L2271.2,2022.8 Z"/>
<circle cx="2368.7" cy="2296" r="36.3"/>
<path class="g" d="M 2379.2,2288.5 L 2373.2,2282.5 L 2364.2,2282.5 L 2358.2,2288.5 L 2358.2,2303.5 L 2364.2,2309.5 L 2373.2,2309.5 L 2379.2,2303.5 L 2379.2,2299.5 L 2373.2,2294.5 L 2364.2,2294.5 L 2358.2,2299.5"/>
<path d="M2332.4,2296 L2278.9,2296 L2048.9,2445.6"/>
<path class="ar" d="M2048.9,2445.6 L2065.2,2426.6 L2072.8,2438.4 Z"/>
<circle cx="158.9" cy="2173.2" r="36.3"/>
<path class="g" d="M 145.4,2159.7 L 145.4,2186.7 M 141.9,2186.7 L 148.9,2186.7 M 145.4,2159.7 L 141.9,2162.7"/>
<path class="g" d="M 172.4,2159.7 L 172.4,2186.7 M 168.9,2186.7 L 175.9,2186.7 M 172.4,2159.7 L 168.9,2162.7"/>
<path d="M195.2,2173.2 L249.4,2173.2 L317.1,2131.3"/>
<path class="ar" d="M317.1,2131.3 L300.4,2149.9 L293,2138 Z"/>
<circle cx="646" cy="2439.8" r="36.3"/>
<path class="g" d="M 632.5,2426.3 L 632.5,2453.3 M 629,2453.3 L 636,2453.3 M 632.5,2426.3 L 629,2429.3"/>
<path class="g" d="M 649,2432.3 L 655,2426.3 L 664,2426.3 L 670,2432.3 L 670,2435.3 L 666,2439.3 L 656,2439.3 M 666,2439.3 L 670,2443.3 L 670,2447.3 L 664,2453.3 L 655,2453.3 L 649,2447.3"/>
<path d="M609.7,2439.8 L556.4,2439.8 L488.3,2378.1"/>
<path class="ar" d="M488.3,2378.1 L510.8,2389 L501.4,2399.4 Z"/>
<circle cx="908.5" cy="2589.5" r="36.3"/>
<path class="g" d="M 919,2576 L 899,2576 L 898,2588 L 913,2588 L 919,2593 L 919,2597 L 913,2603 L 904,2603 L 898,2597"/>
<path d="M944.8,2589.5 L996.4,2589.5 L1247,2245.2"/>
<path class="ar" d="M1247,2245.2 L1238.5,2268.7 L1227.2,2260.5 Z"/>
<circle cx="946" cy="2773.2" r="36.3"/>
<path class="g" d="M 950.5,2786.7 L 950.5,2759.7 L 935.5,2777.7 L 956.5,2777.7"/>
<path d="M982.3,2773.2 L1037,2773.2"/>
<path d="M1037,2773.2 L1037,2688.9"/>
<path class="ar" d="M1037,2688.9 L1044,2712.9 L1030,2712.9 Z"/>
<path d="M1037,2773.2 L1138.7,2631.3"/>
<path class="ar" d="M1138.7,2631.3 L1130.4,2654.9 L1119,2646.7 Z"/>
<circle cx="808.5" cy="3014.6" r="36.3"/>
<path class="g" d="M 798,3007.1 L 804,3001.1 L 813,3001.1 L 819,3007.1 L 819,3010.1 L 815,3014.1 L 805,3014.1 M 815,3014.1 L 819,3018.1 L 819,3022.1 L 813,3028.1 L 804,3028.1 L 798,3022.1"/>
<path d="M844.8,3014.6 L896.6,3014.6"/>
<path d="M896.6,3014.6 L836.5,2846.4"/>
<path class="ar" d="M836.5,2846.4 L851.2,2866.6 L838,2871.4 Z"/>
<path d="M896.6,3014.6 L1104.7,2998.6"/>
<path class="ar" d="M1104.7,2998.6 L1081.3,3007.4 L1080.2,2993.5 Z"/>
<circle cx="2497" cy="2656.6" r="36.3"/>
<path class="g" d="M 2483.5,2643.1 L 2483.5,2670.1 M 2480,2670.1 L 2487,2670.1 M 2483.5,2643.1 L 2480,2646.1"/>
<path class="g" d="M 2500,2643.1 L 2521,2643.1 L 2507,2670.1"/>
<path d="M2460.7,2656.6 L2390.5,2656.6"/>
<path class="ar" d="M2390.5,2656.6 L2414.5,2649.6 L2414.5,2663.6 Z"/>
<circle cx="2052.7" cy="2919.2" r="36.3"/>
<path class="g" d="M 2039.2,2905.7 L 2039.2,2932.7 M 2035.7,2932.7 L 2042.7,2932.7 M 2039.2,2905.7 L 2035.7,2908.7"/>
<path class="g" d="M 2076.7,2911.7 L 2070.7,2905.7 L 2061.7,2905.7 L 2055.7,2911.7 L 2055.7,2926.7 L 2061.7,2932.7 L 2070.7,2932.7 L 2076.7,2926.7 L 2076.7,2922.7 L 2070.7,2917.7 L 2061.7,2917.7 L 2055.7,2922.7"/>
<path d="M2016.4,2919.2 L1964.6,2919.2 L1978.2,2838.3"/>
<path class="ar" d="M1978.2,2838.3 L1981.1,2863.1 L1967.3,2860.8 Z"/>
<circle cx="2251.1" cy="2946.7" r="36.3"/>
<path class="g" d="M 2240.6,2937.2 L 2245.6,2933.2 L 2259.6,2933.2 L 2261.6,2935.2 L 2261.6,2943.2 L 2240.6,2955.2 L 2240.6,2960.2 L 2261.6,2960.2"/>
<path d="M2287.4,2946.7 L2340,2946.7 L2295,2876"/>
<path class="ar" d="M2295,2876 L2313.8,2892.5 L2302,2900 Z"/>
<circle cx="2240" cy="3248.2" r="36.3"/>
<path class="g" d="M 2240,3234.7 L 2240,3261.7 M 2236.5,3261.7 L 2243.5,3261.7 M 2240,3234.7 L 2236.5,3237.7"/>
<path d="M2276.3,3248.2 L2330.4,3248.2 L2354.4,3178.5"/>
<path class="ar" d="M2354.4,3178.5 L2353.2,3203.5 L2340,3198.9 Z"/>
<path d="M 2006.7,1145.5 L 2561.8,1463.7"/>
<path d="M 1992.9,1164.7 L 2544.6,1481"/>
<path d="M 2006.7,1145.5 C 1997.8,1147.5 1990.4,1157.3 1992.9,1164.7"/>
<path d="M 2033.3,1160.8 C 2026.4,1163.7 2022.4,1171.6 2019.5,1180.5"/>
<path d="M 2070.4,1182.1 C 2063.5,1185 2059.6,1192.9 2056.7,1201.8"/>
<path d="M 2107.6,1203.4 C 2100.7,1206.4 2096.8,1214.2 2093.8,1223.1"/>
<path d="M 2144.8,1224.7 C 2137.9,1227.7 2134,1235.6 2131,1244.4"/>
<path d="M 2182,1246.1 C 2175.1,1249 2171.2,1256.9 2168.2,1265.8"/>
<path d="M 2219.2,1267.3 C 2212.3,1270.3 2208.4,1278.2 2205.4,1287"/>
<path d="M 2256.4,1288.7 C 2249.5,1291.6 2245.6,1299.5 2242.6,1308.4"/>
<path d="M 2293.6,1310 C 2286.7,1313 2282.8,1320.8 2279.8,1329.7"/>
<path d="M 2330.8,1331.3 C 2323.9,1334.3 2320,1342.2 2317,1351"/>
<path d="M 2368,1352.6 C 2361.1,1355.6 2357.1,1363.4 2354.2,1372.3"/>
<path d="M 2405.2,1373.9 C 2398.3,1376.9 2394.3,1384.8 2391.4,1393.6"/>
<path d="M 2442.4,1395.3 C 2435.5,1398.2 2431.5,1406.1 2428.6,1415"/>
<path d="M 2479.6,1416.6 C 2472.7,1419.6 2468.7,1427.4 2465.8,1436.3"/>
<path d="M 2516.7,1437.9 C 2509.9,1440.8 2505.9,1448.7 2503,1457.6"/>
<ellipse cx="2559.4" cy="1472.6" rx="8.9" ry="10.3" transform="rotate(-20 2559.4 1472.6)"/>
<ellipse cx="2560.3" cy="1472.6" rx="4.4" ry="5.9" transform="rotate(-20 2560.3 1472.6)"/>
<path d="M 2539.7,1467.7 C 2544.6,1460.3 2552,1460.3 2555.4,1463.7"/>
<ellipse class="b" cx="1919" cy="1107.1" rx="9.9" ry="10.8" transform="rotate(-20 1919 1107.1)"/>
<path d="M 1901.7,1098.2 C 1904.2,1092.3 1911.6,1090.8 1919,1096.3 M 1899.3,1109.1 C 1896.8,1103.2 1899.3,1098.2 1904.2,1096.3 L 1914,1092.3"/>
<path d="M 1895.3,1118.9 L 1905.2,1115.5 L 1908.1,1122.9 M 1903.2,1125.3 L 1909.1,1120.4"/>
<path d="M 1899.3,1109.1 C 1901.7,1117.9 1909.1,1121.9 1916.5,1118.9"/>
<path class="dd" d="M 1926.4,1112 L 1992.9,1150"/>
<path class="db" d="M 121.4,1745.6 L 550,1499.3"/>
<path class="d" d="M 118,1772.7 L 557.4,1522.9"/>
<path class="d" d="M 121.9,1779.1 L 561.3,1528.8"/>
<path class="d" d="M 72.2,1779.1 L 72.2,1881"/>
<path class="d" d="M 72.2,1779.1 C 77.1,1769.2 86.9,1766.3 99.3,1771.2"/>
<path class="d" d="M 82,1772.7 L 151,1813.5"/>
<path class="d" d="M 138.7,1854.9 L 215,1889.9"/>
<path class="d" d="M 141.1,1862.8 L 212.6,1895.8"/>
<path class="d" d="M 215,1889.9 L 247,1878.6 L 266.7,1883.5 L 266.7,1926.8 L 255.9,1931.8 L 212.6,1898.3"/>
<path class="d" d="M 550,1499.3 L 619,1538.7 L 641.1,1533.7 L 670.7,1526.4 L 759.4,1579.1 L 747,1592.9 L 737.2,1606.7 L 850,1666.7"/>
<path class="d" d="M 557.4,1501.7 L 562.3,1523.9"/>
<ellipse class="d" cx="537.7" cy="1595.3" rx="34.5" ry="19.7"/>
<ellipse class="d" cx="537.7" cy="1595.3" rx="24.1" ry="13.8"/>
<ellipse class="d" cx="537.7" cy="1595.3" rx="12.1" ry="6.9"/>
<ellipse class="d" cx="582" cy="1634.7" rx="32" ry="18.7"/>
<ellipse class="d" cx="582" cy="1634.7" rx="22.4" ry="13.1"/>
<ellipse class="d" cx="582" cy="1634.7" rx="11.2" ry="6.6"/>
<ellipse class="d" cx="259.4" cy="1760.3" rx="35.5" ry="20.7"/>
<ellipse class="d" cx="259.4" cy="1760.3" rx="24.8" ry="14.5"/>
<ellipse class="d" cx="259.4" cy="1760.3" rx="12.4" ry="7.2"/>
<path class="d" d="M 641.1,1696.3 C 641.1,1681.5 670.7,1674.1 690.4,1681.5 L 749.5,1718.5 L 818.5,1688.9 C 838.2,1686.5 843.1,1706.2 833.3,1725.9 L 818.5,1735.7 C 833.3,1755.4 838.2,1789.9 818.5,1802.2 C 798.8,1807.1 779.1,1794.8 744.6,1775.1 L 655.9,1711.1 C 643.6,1706.2 640.1,1701.2 641.1,1696.3 Z"/>
<path class="d" d="M 665.8,1716 L 749.5,1775.1 M 739.7,1740.6 L 818.5,1706.2"/>
<ellipse class="d" cx="673.2" cy="1957.4" rx="98.5" ry="49.3"/>
<ellipse class="d" cx="675.6" cy="1962.3" rx="91.1" ry="44.3"/>
<ellipse class="db" cx="766.7" cy="1893.3" rx="49.3" ry="24.6" transform="rotate(-10 766.7 1893.3)"/>
<ellipse class="d" cx="407.1" cy="1642.1" rx="8.9" ry="5.9"/>
<ellipse class="d" cx="508.1" cy="1656.9" rx="8.9" ry="5.9"/>
<ellipse class="d" cx="466.3" cy="1671.7" rx="8.9" ry="5.9"/>
<ellipse class="d" cx="530.3" cy="1670.2" rx="8.9" ry="5.9"/>
<ellipse class="d" cx="349.5" cy="1685.5" rx="8.9" ry="5.9"/>
<ellipse class="d" cx="385" cy="1688.9" rx="8.9" ry="5.9"/>
<ellipse class="d" cx="328.3" cy="1756.4" rx="8.9" ry="5.9"/>
<ellipse class="d" cx="537.7" cy="1720" rx="8.9" ry="5.9"/>
<ellipse class="d" cx="453.9" cy="1765.3" rx="8.9" ry="5.9"/>
<ellipse class="d" cx="559.9" cy="1775.1" rx="8.9" ry="5.9"/>
<ellipse class="d" cx="527.8" cy="1836.7" rx="8.9" ry="5.9"/>
<ellipse class="d" cx="621.4" cy="1587.9" rx="8.9" ry="5.9"/>
<ellipse class="d" cx="680.5" cy="1600.2" rx="8.9" ry="5.9"/>
<ellipse class="d" cx="663.3" cy="1538.7" rx="8.9" ry="5.9"/>
<ellipse class="d" cx="744.6" cy="1583" rx="8.9" ry="5.9"/>
<ellipse class="d" cx="710.1" cy="1836.7" rx="8.9" ry="5.9"/>
<ellipse class="d" cx="631.3" cy="1878.6" rx="8.9" ry="5.9"/>
<ellipse class="d" cx="574.6" cy="1903.2" rx="8.9" ry="5.9"/>
<ellipse class="d" cx="222.4" cy="1878.6" rx="8.9" ry="5.9"/>
<ellipse class="d" cx="151" cy="1836.7" rx="8.9" ry="5.9"/>
<ellipse class="d" cx="109.1" cy="1853.9" rx="8.9" ry="5.9"/>
<ellipse class="d" cx="86.9" cy="1809.6" rx="8.9" ry="5.9"/>
<ellipse class="d" cx="143.6" cy="1812.1" rx="8.9" ry="5.9"/>
<ellipse class="d" cx="660.8" cy="1918" rx="8.9" ry="5.9"/>
<ellipse class="d" cx="724.9" cy="1930.3" rx="8.9" ry="5.9"/>
<ellipse class="d" cx="673.2" cy="1957.4" rx="8.9" ry="5.9"/>
<ellipse class="d" cx="734.7" cy="1972.2" rx="8.9" ry="5.9"/>
<ellipse class="d" cx="387.4" cy="1979.6" rx="8.9" ry="5.9"/>
<ellipse class="d" cx="389.9" cy="2016.5" rx="8.9" ry="5.9"/>
<ellipse class="d" cx="353" cy="2021.4" rx="8.9" ry="5.9"/>
<ellipse class="d" cx="444.1" cy="1922.9" rx="36.9" ry="19.7" transform="rotate(-15 444.1 1922.9)"/>
<ellipse class="d" cx="114" cy="1853.9" rx="7.4" ry="12.3" transform="rotate(20 114 1853.9)"/>
<ellipse class="d" cx="389.9" cy="2011.6" rx="7.4" ry="13.8" transform="rotate(10 389.9 2011.6)"/>
<path class="d" d="M 813.3,1650 L 956.2,1728.8 L 1236.9,1891.4 L 1500,2029.3"/>
<path class="d" d="M 956.2,1792.9 C 956.2,1783 975.9,1773.2 995.6,1770.7 L 1229.6,1901.2 L 1232,1918.5 L 1192.6,1935.7 C 1182.8,1935.7 1172.9,1930.8 1163.1,1925.9 L 961.1,1805.2 Z"/>
<path class="d" d="M 995.6,1779.1 L 1227.1,1908.6"/>
<path class="d" d="M 926.6,1820 C 931.5,1815 956.2,1815 961.1,1822.4 L 946.3,1935.7 C 941.4,1945.6 916.7,1948 909.4,1940.6 Z"/>
<path class="d" d="M 931.5,1827.3 L 919.2,1938.2 M 953.7,1827.3 L 941.4,1938.2"/>
<ellipse class="d" cx="1103.9" cy="2090.9" rx="219.2" ry="125.6"/>
<ellipse class="d" cx="1103.9" cy="2090.9" rx="209.4" ry="117.2"/>
<path class="db" d="M 953.7,2078.6 C 966,2053.9 1015.3,2029.3 1054.7,2019.5 C 1094.1,2014.5 1133.5,2019.5 1158.1,2034.2 C 1192.6,2058.9 1227.1,2093.3 1229.6,2118 C 1227.1,2142.6 1207.4,2167.2 1192.6,2172.2 C 1163.1,2182 1133.5,2182 1103.9,2182 C 1054.7,2172.2 1015.3,2147.5 995.6,2137.7 C 975.9,2122.9 956.2,2103.2 953.7,2078.6 Z"/>
<path class="dd" d="M 1163.1,2058.9 C 1158.1,2078.6 1172.9,2108.1 1197.5,2127.8 L 1222.2,2122.9"/>
<ellipse class="d" cx="906.9" cy="2201.7" rx="29.6" ry="17.2"/>
<ellipse class="d" cx="906.9" cy="2201.7" rx="22.2" ry="12.3"/>
<path class="d" d="M 700,2127.8 L 897,2250 M 700,2162.3 L 847.8,2250"/>
<ellipse class="d" cx="719.7" cy="1930.8" rx="7.4" ry="4.9"/>
<ellipse class="d" cx="734.5" cy="1972.7" rx="7.4" ry="4.9"/>
<ellipse class="d" cx="759.1" cy="2108.1" rx="7.4" ry="4.9"/>
<ellipse class="d" cx="840.4" cy="2088.4" rx="9.9" ry="5.9"/>
<ellipse class="d" cx="1101.5" cy="1935.7" rx="9.9" ry="5.9"/>
<ellipse class="d" cx="1148.3" cy="1938.2" rx="9.9" ry="5.9"/>
<ellipse class="d" cx="1281.3" cy="1940.6" rx="9.9" ry="5.9"/>
<ellipse class="d" cx="1362.6" cy="2061.3" rx="9.9" ry="5.9"/>
<ellipse class="d" cx="1362.6" cy="2118" rx="9.9" ry="5.9"/>
<ellipse class="d" cx="1404.4" cy="2174.6" rx="9.9" ry="5.9"/>
<ellipse class="d" cx="968.5" cy="2041.6" rx="9.9" ry="5.9"/>
<ellipse class="d" cx="931.5" cy="2086" rx="9.9" ry="5.9"/>
<ellipse class="d" cx="1094.1" cy="2009.6" rx="9.9" ry="5.9"/>
<ellipse class="d" cx="1212.3" cy="2157.4" rx="9.9" ry="5.9"/>
<ellipse class="d" cx="1244.3" cy="2044.1" rx="9.9" ry="5.9"/>
<ellipse class="d" cx="1103.9" cy="2238.7" rx="9.9" ry="5.9"/>
<ellipse class="d" cx="1148.3" cy="2238.7" rx="9.9" ry="5.9"/>
<path class="dd" d="M 841.9,1650 L 841.9,2088.4"/>
<path class="dd" d="M 1103.9,1650 L 1103.9,2248.5"/>
<path class="dd" d="M 1148.3,1650 L 1148.3,1945.6"/>
<path class="dd" d="M 1310.8,1650 L 1310.8,2169.7"/>
<path class="dd" d="M 1362.6,1650 L 1362.6,2063.8"/>
<path d="M 1229.6,1650 L 1229.6,2191.9"/>
<path class="dd" d="M 1397,1650 L 1397,2100.7"/>
<path class="dd" d="M 1226.1,1650 L 1226.1,2182"/>
<path d="M 1229.6,2191.9 L 1310.8,2169.7"/>
<path d="M 1310.8,2169.7 L 1429.1,2110.6 M 1229.6,2191.9 L 1229.6,2216.5 L 1310.8,2250"/>
<path class="d" d="M 680.4,2150 L 880.6,2270.1 M 880.6,2342.1 L 1300,2574.3"/>
<path class="dd" d="M 840.5,2326.1 L 840.5,2782.4"/>
<path class="dd" d="M 1104.7,2838.4 L 1104.7,2930.5"/>
<path d="M 832.5,2814.4 L 832.5,2782.4 C 832.5,2776 848.5,2776 848.5,2782.4 L 848.5,2814.4"/>
<path class="b" d="M 819.7,2822.4 L 861.4,2822.4 L 863,2832 L 858.1,2844.8 L 822.9,2844.8 L 818.1,2832 Z M 824.5,2844.8 L 826.1,2858.5 L 854.9,2858.5 L 856.5,2844.8 M 832.5,2844.8 L 832.5,2858.5 M 848.5,2844.8 L 848.5,2858.5"/>
<path d="M 1096.7,2966.5 L 1096.7,2932.9 C 1096.7,2926.5 1112.7,2926.5 1112.7,2932.9 L 1112.7,2966.5"/>
<path class="b" d="M 1083.9,2974.5 L 1125.5,2974.5 L 1127.1,2984.1 L 1122.3,2996.9 L 1087.1,2996.9 L 1082.3,2984.1 Z M 1088.7,2996.9 L 1090.3,3010.6 L 1119.1,3010.6 L 1120.7,2996.9 M 1096.7,2996.9 L 1096.7,3010.6 M 1112.7,2996.9 L 1112.7,3010.6"/>
<path class="b" d="M 348.2,2382.1 L 372.2,2342.1 L 392.3,2326.1 L 416.3,2334.1 L 480.3,2278.1 L 500.3,2254.1 L 540.3,2246.1 L 544.3,2270.1 L 560.4,2282.1 L 576.4,2270.1 L 584.4,2278.1 L 576.4,2306.1 L 512.3,2350.1 L 480.3,2382.1 L 444.3,2406.2 L 400.3,2446.2 L 352.2,2422.2 Z"/>
<path d="M 372.2,2342.1 L 400.3,2406.2 L 400.3,2446.2 M 392.3,2326.1 L 424.3,2390.2 M 416.3,2334.1 C 432.3,2358.1 448.3,2382.1 480.3,2382.1 M 500.3,2254.1 C 512.3,2294.1 536.3,2310.1 576.4,2306.1 M 480.3,2278.1 C 496.3,2310.1 512.3,2334.1 552.4,2310.1"/>
<path d="M 356.2,2390.2 L 392.3,2406.2 L 440.3,2398.2 L 488.3,2366.1 L 544.3,2318.1 L 576.4,2302.1"/>
<ellipse cx="560.4" cy="2300.5" rx="6.4" ry="4.8"/>
<path class="b" d="M 224.8,2063.5 L 234,2059.2 L 245.1,2066.6 L 245.1,2077.1 L 235.2,2082 L 224.8,2075.9 Z M 234,2059.2 L 235.2,2069.7 L 245.1,2066.6 M 224.8,2063.5 L 235.2,2069.7"/>
<path class="b" d="M 245.1,2070.9 L 512.3,2231 L 516,2238.4 L 508.6,2237.2 L 241.4,2079.6"/>
<path class="d" d="M 72.5,1881 L 844,2324"/>
<path class="d" d="M 276,1882 L 900,2259"/>
<path class="d" d="M 274,1889 L 898,2266"/>
<path class="ph" d="M 842.2,2392.4 C 842.2,2386.8 847.7,2384.2 855.1,2384.2 L 875.4,2390.5 C 882.8,2388.7 885.8,2379.4 886.5,2370.2 C 888.3,2362.8 893.9,2359.1 899.4,2358.4 L 906.8,2344.3 C 910.5,2341.4 916.1,2341.4 919.8,2343.6"/>
<path class="ph" d="M 842.2,2392.4 L 842.9,2436.7 C 845.9,2455.2 855.1,2473.6 868,2492.1 C 886.5,2514.3 916.1,2532.8 945.6,2546.8 C 954.9,2549.4 960.4,2545.7 961.5,2536.5 L 962.2,2499.5 C 963.3,2494 967.8,2492.1 973.3,2492.9 L 1041.7,2519.8 C 1050.9,2523.5 1056.5,2529.1 1060.1,2540.1 L 1065.7,2580.8 L 1074.9,2591.9 L 1078.6,2595.6 L 1078.6,2669.5 L 1089.7,2684.2 L 1093.4,2724.9 C 1091.5,2743.3 1078.6,2758.1 1074.9,2772.9 C 1071.2,2791.4 1073.1,2809.8 1086,2824.6 C 1097.1,2835.7 1111.9,2839.4 1123,2832 L 1171,2767.4 L 1237.5,2654.7"/>
<path class="d" d="M 960.4,2501.4 L 958.5,2540.1 M 965.9,2497.7 L 964.8,2543.8"/>
<path class="ph" d="M 1237.5,2654.7 L 1278.1,2625.1 L 1294.7,2614 L 1296.6,2580.8 L 1315.1,2558.6"/>
<path class="ph" d="M 1128.5,2832 L 1178.4,2763.7 L 1241.2,2660.2"/>
<path class="d" d="M 1071.2,2595.6 L 1074.9,2669.5 M 1086,2686.1 L 1089,2724.9"/>
<ellipse class="d" cx="858.8" cy="2414.5" rx="5.9" ry="8.1" transform="rotate(-20 858.8 2414.5)"/>
<ellipse class="d" cx="917.9" cy="2410.8" rx="5.9" ry="8.1" transform="rotate(-20 917.9 2410.8)"/>
<ellipse class="d" cx="879.1" cy="2481" rx="5.9" ry="8.1" transform="rotate(-20 879.1 2481)"/>
<ellipse class="d" cx="927.1" cy="2514.3" rx="5.9" ry="8.1" transform="rotate(-20 927.1 2514.3)"/>
<ellipse class="d" cx="1039.8" cy="2473.6" rx="5.9" ry="8.1" transform="rotate(-20 1039.8 2473.6)"/>
<ellipse class="d" cx="1102.6" cy="2566" rx="5.9" ry="8.1" transform="rotate(-20 1102.6 2566)"/>
<ellipse class="d" cx="1102.6" cy="2606.6" rx="5.9" ry="8.1" transform="rotate(-20 1102.6 2606.6)"/>
<ellipse class="d" cx="1100.8" cy="2647.3" rx="5.9" ry="8.1" transform="rotate(-20 1100.8 2647.3)"/>
<ellipse class="d" cx="1189.5" cy="2662.1" rx="5.9" ry="8.1" transform="rotate(-20 1189.5 2662.1)"/>
<ellipse class="d" cx="1100.8" cy="2798.8" rx="8.1" ry="11.1" transform="rotate(-20 1100.8 2798.8)"/>
<ellipse class="d" cx="1237.5" cy="2492.1" rx="5.2" ry="7.4" transform="rotate(-20 1237.5 2492.1)"/>
<ellipse class="d" cx="1215.3" cy="2625.1" rx="6.7" ry="9.2" transform="rotate(-20 1215.3 2625.1)"/>
<ellipse class="dd" cx="1145.1" cy="2614" rx="29.6" ry="36.9"/>
<ellipse class="d" cx="1148.8" cy="2610.3" rx="21.4" ry="28.8"/>
<ellipse class="d" cx="1152.5" cy="2606.6" rx="14" ry="20.7"/>
<path d="M 1134,2625.1 L 1167.3,2606.6"/>
<path class="ph" d="M 1219,2580.8 C 1222.7,2569.7 1233.8,2566 1244.9,2571.5 L 1278.1,2603 L 1278.1,2621.4 M 1226.4,2591.9 C 1230.1,2580.8 1241.2,2577.1 1252.3,2584.5 M 1237.5,2632.5 L 1274.4,2610.3 M 1241.2,2643.6 L 1278.1,2617.7 M 1244.9,2595.6 L 1256,2651 M 1256,2591.9 L 1267,2643.6 M 1267,2595.6 L 1278.1,2632.5"/>
<path class="dd" d="M 1071.2,2669.5 L 1100.8,2651 M 1167.3,2654.7 L 1226.4,2625.1"/>
<path class="b" d="M 1031.3,2669.5 L 1038,2661.3 L 1048.3,2662.1 L 1052.8,2671.3 L 1047.2,2681.3 L 1036.1,2682.4 Z"/>
<ellipse cx="1041.7" cy="2673.1" rx="6.7" ry="7.4"/>
<path d="M 1049.1,2662.1 L 1062,2656.5 C 1067.5,2656.5 1069.4,2663.9 1064.6,2666.5 L 1052,2671.3"/>
<path class="b" d="M 1136.6,2662.1 L 1143.3,2653.9 L 1153.6,2654.7 L 1158.1,2663.9 L 1152.5,2673.9 L 1141.4,2675 Z"/>
<ellipse cx="1147" cy="2665.8" rx="6.7" ry="7.4"/>
<path d="M 1154.4,2654.7 L 1167.3,2649.1 C 1172.8,2649.1 1174.7,2656.5 1169.9,2659.1 L 1157.3,2663.9"/>
<path d="M 1063.8,2665.8 L 1100.8,2645.4 M 1171,2654.7 L 1207.9,2634.4"/>
<path d="M 1167.3,2769.2 L 1176.5,2791.4"/>
<path class="d" d="M 711.8,2108.6 L 1078.8,1904.2"/>
<path class="d" d="M 716.7,2096.3 L 1073.9,1896.8"/>
<path class="d" d="M 756.2,2047 L 1066.5,1891.9"/>
<path class="d" d="M 775.9,2007.6 L 1056.7,1885.5"/>
<path class="d" d="M 731.5,2074.1 L 1071.4,1894.3"/>
<path class="d" d="M 775.9,2007.6 C 736.5,2022.4 706.9,2052 698,2086.5 C 697,2101.2 704.4,2108.6 711.8,2108.6"/>
<path class="d" d="M 1056.7,1885.5 C 1071.4,1884.5 1081.3,1891.9 1078.8,1904.2"/>
<path class="db" d="M 569,2027.3 C 598.5,2047 647.8,2061.8 726.6,2066.7"/>
<path class="d" d="M 578.8,2042.1 C 613.3,2056.9 657.6,2069.2 706.9,2071.7"/>
<ellipse class="d" cx="815.3" cy="1923.9" rx="54.2" ry="27.1" transform="rotate(10 815.3 1923.9)"/>
<path class="db" d="M 719.2,1896.8 C 721.7,1879.6 746.3,1869.7 770.9,1869.7 C 805.4,1870.7 820.2,1884.5 822.7,1899.3"/>
<ellipse class="d" cx="903.9" cy="2202.2" rx="27.1" ry="14.8"/>
<path d="M 369.3,2349.6 C 372,2366.3 377.6,2382.9 383.1,2394 M 374.8,2346.9 C 377.6,2363.5 383.1,2380.1 391.4,2394"/>
<path d="M 423.3,2323.3 C 430.2,2338.5 438.5,2357.9 446.9,2371.8 M 438.5,2312.2 C 444.1,2327.5 452.4,2346.9 469,2366.3 M 444.1,2309.4 C 451,2324.7 460.7,2344.1 477.3,2363.5"/>
<path d="M 500.9,2254 C 502.3,2266.5 506.4,2280.4 527.2,2313.6 M 506.4,2255.4 L 510.6,2283.1 M 510.6,2277.6 L 543.8,2270.7"/>
<path d="M 399.8,2405 L 444.1,2391.2 L 477.3,2371.8 L 510.6,2346.9 L 541.1,2330.2 M 395.6,2410.6 L 438.5,2399.5"/>
<path d="M 348.5,2384.3 L 391.4,2409.2 M 355.4,2380.1 L 391.4,2402.3 M 543.8,2309.4 L 566,2305.3 M 546.6,2302.5 L 577.1,2288.7"/>
<path d="M 388.7,2410.6 C 391.4,2421.7 394.2,2432.8 399.8,2445.2 M 433,2388.4 L 444.1,2410.6"/>
<path d="M 1226.6,2100 L 1226.6,2218.2 L 1433.5,2319.2"/>
<path d="M 1310.3,2100 L 1310.3,2166.5 L 1423.6,2107.4"/>
<path class="dd" d="M 1423.6,2107.4 L 1655.2,2146.8 L 1674.9,2331.5 L 1687.2,2343.8 L 1630.5,2356.2"/>
<path d="M 1640.4,2144.3 L 1655.2,2154.2"/>
<path class="ph" d="M 1029.6,2311.8 C 1029.6,2297 1039.4,2287.2 1054.2,2282.3 L 1098.5,2267.5 C 1110.8,2265 1118.2,2272.4 1115.8,2284.7 C 1117.2,2294.6 1128.1,2297 1137.9,2292.1 L 1172.4,2277.3 L 1236.5,2252.7"/>
<path class="ph" d="M 1029.6,2311.8 L 1029.6,2316.7 C 1034.5,2326.6 1049.3,2331.5 1098.5,2356.2 L 1137.9,2368.5 L 1206.9,2395.6"/>
<path class="ph" d="M 1206.9,2395.6 C 1214.3,2400.5 1216.7,2407.9 1216.7,2415.3 L 1219.2,2474.4 C 1211.8,2479.3 1197,2481.8 1187.2,2479.3"/>
<path class="ph" d="M 1098.5,2356.2 L 1098.5,2415.3 L 1187.2,2479.3 M 1105.9,2366 L 1105.9,2420.2 M 1118.2,2368.5 L 1128.1,2444.8"/>
<ellipse class="d" cx="1054.2" cy="2309.4" rx="9.9" ry="5.9"/>
<ellipse class="d" cx="1128.1" cy="2324.1" rx="9.9" ry="5.9"/>
<ellipse class="d" cx="1182.3" cy="2302" rx="9.9" ry="5.9"/>
<ellipse class="d" cx="1073.9" cy="2265" rx="9.9" ry="5.9"/>
<ellipse class="d" cx="1029.6" cy="2284.7" rx="9.9" ry="5.9"/>
<ellipse class="d" cx="1197" cy="2370" rx="9.9" ry="5.9"/>
<ellipse class="d" cx="1120.7" cy="2289.7" rx="9.9" ry="5.9"/>
<path class="dd" d="M 1206.9,2395.6 L 1497.5,2242.9"/>
<path class="dd" d="M 1216.7,2415.3 L 1512.3,2257.6"/>
<path class="d" d="M 1541.9,2188.7 L 1655.2,2149.3"/>
<path class="d" d="M 1529.6,2218.2 L 1800,2375.9"/>
<path class="dd" d="M 1551.7,2247.8 L 1800,2395.6"/>
<path d="M 1630.5,2425.1 L 1633,2452.2 L 1800,2361.1"/>
<path class="dd" d="M 1630.5,2425.1 L 1800,2331.5"/>
<path class="ph" d="M 1687.2,2343.8 C 1640.4,2356.2 1605.9,2375.9 1601,2420.2 L 1598.5,2444.8 C 1593.6,2464.5 1581.3,2474.4 1566.5,2489.2 L 1492.6,2592.6 C 1487.7,2602.5 1480.3,2612.3 1468,2617.2"/>
<path class="ph" d="M 1680.3,2345.9 C 1633.5,2358.2 1599,2375.9 1594.1,2420.2 L 1591.6,2444.8 C 1586.7,2464.5 1574.4,2474.4 1559.6,2489.2 L 1485.7,2592.6 C 1480.8,2602.5 1473.4,2612.3 1464.5,2619.3"/>
<path class="ph" d="M 1673.4,2348 C 1626.6,2360.3 1592.1,2375.9 1587.2,2420.2 L 1584.7,2444.8 C 1579.8,2464.5 1567.5,2474.4 1552.7,2489.2 L 1478.8,2592.6 C 1473.9,2602.5 1466.5,2612.3 1461.1,2621.4"/>
<path class="ph" d="M 1344.8,2607.4 L 1468,2617.2 M 1349.8,2617.2 L 1472.9,2627.1"/>
<path class="ph" d="M 1320.2,2563.1 C 1315.3,2572.9 1325.1,2592.6 1344.8,2607.4 M 1315.3,2572.9 C 1310.3,2587.7 1325.1,2612.3 1347.3,2619.7"/>
<path class="ph" d="M 1216.7,2474.4 L 1320.2,2563.1"/>
<path class="ph" d="M 1246.3,2405.4 C 1266,2400.5 1285.7,2420.2 1290.6,2439.9 C 1275.9,2444.8 1266,2454.7 1268.5,2469.5 C 1275.9,2484.2 1290.6,2479.3 1295.6,2474.4 L 1310.3,2523.6 C 1315.3,2528.6 1322.7,2523.6 1320.2,2513.8 L 1312.8,2474.4 C 1320.2,2469.5 1325.1,2454.7 1315.3,2444.8 C 1310.3,2439.9 1305.4,2435 1305.4,2435 C 1315.3,2430 1335,2435 1344.8,2454.7 L 1349.8,2558.1"/>
<path class="ph" d="M 1251.2,2415.3 C 1266,2410.3 1280.8,2425.1 1285.7,2444.8 M 1303,2439.9 C 1315.3,2439.9 1330,2444.8 1339.9,2464.5 L 1344.8,2558.1"/>
<path class="ph" d="M 1347.3,2400.5 C 1347.3,2385.7 1367,2383.3 1371.9,2395.6 L 1399,2612.3 M 1347.3,2400.5 L 1374.4,2612.3"/>
<path class="bb" d="M 1350.7,2415.3 L 1376.8,2607.4"/>
<path class="ph" d="M 1514.8,2306.9 C 1512.3,2292.1 1536.9,2287.2 1541.9,2302 L 1566.5,2508.9 C 1561.6,2523.6 1551.7,2528.6 1541.9,2528.6 L 1514.8,2306.9"/>
<path class="bb" d="M 1517.2,2321.7 L 1541.9,2523.6"/>
<ellipse class="dd" cx="1455.7" cy="2400.5" rx="45.3" ry="56.7" transform="rotate(15 1455.7 2400.5)"/>
<ellipse class="d" cx="1450.7" cy="2398" rx="36.9" ry="48.3" transform="rotate(15 1450.7 2398)"/>
<ellipse cx="1458.1" cy="2405.4" rx="39.4" ry="49.3" transform="rotate(15 1458.1 2405.4)"/>
<path class="dd" d="M 1423.6,2425.1 L 1472.9,2395.6"/>
<ellipse class="ph" cx="1468" cy="2545.8" rx="19.7" ry="24.6"/>
<ellipse class="d" cx="1472.9" cy="2548.3" rx="14.8" ry="19.7"/>
<path class="ph" d="M 1468,2568 L 1472.9,2607.4"/>
<path class="ph" d="M 1295.6,2331.5 C 1305.4,2321.7 1330,2324.1 1339.9,2331.5 C 1339.9,2346.3 1330,2366 1320.2,2368.5 C 1307.9,2361.1 1295.6,2346.3 1295.6,2331.5 Z"/>
<path class="ph" d="M 1517.2,2201 C 1527.1,2193.6 1551.7,2196.1 1559.1,2203.4 C 1556.7,2218.2 1546.8,2233 1536.9,2237.9 C 1527.1,2230.5 1517.2,2215.8 1517.2,2201 Z"/>
<path class="b" d="M 1214.3,2247.8 L 1231.5,2229.1 M 1231.5,2229.1 L 1445.8,2311.8 M 1214.3,2247.8 L 1214.3,2257.6 L 1436,2326.6 L 1445.8,2322.7 L 1492.6,2262.6 L 1529.6,2218.2 L 1514.8,2210.8 L 1490.1,2229.1 L 1445.8,2311.8"/>
<path d="M 1214.3,2247.8 L 1436,2319.2 L 1436,2326.6 M 1492.6,2262.6 L 1490.1,2229.1"/>
<ellipse cx="1240.4" cy="2243.8" rx="7.4" ry="4.9"/>
<ellipse cx="1260.1" cy="2246.8" rx="7.4" ry="4.9"/>
<path d="M 1512.3,2212.3 L 1529.6,2218.2"/>
<ellipse cx="1512.3" cy="2233" rx="4.9" ry="6.9" transform="rotate(20 1512.3 2233)"/>
<path d="M 1266,2247.8 L 1413.8,2316.7 M 1275.9,2237.9 L 1433.5,2306.9"/>
<path class="dd" d="M 1000,2390.6 L 1315.3,2563.1"/>
<path class="dd" d="M 1000,2400.5 L 1315.3,2572.9"/>
<path class="d" d="M 1000,2415.3 L 1325.1,2587.7"/>
<path class="d" d="M 1000,2375.9 L 1305.4,2543.3"/>
<path class="ph" d="M 1000,2503.9 L 1049.3,2518.7"/>
<path class="dd" d="M 1009.9,2149.3 C 1049.3,2169 1098.5,2178.8 1147.8,2178.8 L 1226.6,2173.9"/>
<path class="dd" d="M 1000,2198.5 C 1049.3,2208.4 1123.2,2213.3 1206.9,2198.5"/>
<path class="dd" d="M 1103.4,2100 L 1103.4,2247.8"/>
<path class="dd" d="M 1147.8,2100 L 1147.8,2169"/>
<path class="dd" d="M 1359.6,2622.2 L 1359.6,2691.1"/>
<ellipse class="d" cx="1403.9" cy="2173.9" rx="9.9" ry="5.9"/>
<ellipse class="d" cx="1482.8" cy="2129.6" rx="9.9" ry="5.9"/>
<ellipse class="d" cx="1610.8" cy="2144.3" rx="9.9" ry="5.9"/>
<ellipse class="d" cx="1362.1" cy="2117.2" rx="9.9" ry="5.9"/>
<ellipse class="d" cx="1069" cy="2262.6" rx="9.9" ry="5.9"/>
<ellipse class="d" cx="1197" cy="2370" rx="9.9" ry="5.9"/>
<ellipse class="d" cx="1039.4" cy="2474.4" rx="9.9" ry="5.9"/>
<ellipse class="d" cx="1238.9" cy="2494.1" rx="9.9" ry="5.9"/>
<ellipse class="d" cx="1197" cy="2661.6" rx="9.9" ry="5.9"/>
<ellipse class="d" cx="1105.9" cy="2565.5" rx="9.9" ry="5.9"/>
<ellipse class="d" cx="1101" cy="2604.9" rx="9.9" ry="5.9"/>
<ellipse class="d" cx="1098.5" cy="2641.9" rx="9.9" ry="5.9"/>
<path d="M 1352,2788 L 1352,2758 C 1352,2752 1364,2752 1364,2758 L 1364,2788"/>
<path class="b" d="M 1343,2790 L 1373,2790 L 1375,2800 L 1371,2812 L 1345,2812 L 1341,2800 Z M 1346,2812 L 1347,2821 L 1369,2821 L 1370,2812 M 1353,2812 L 1353,2821 M 1363,2812 L 1363,2821"/>
<path class="dd" d="M 1358,2625 L 1358,2750"/>
<path class="dd" d="M 840,2345 L 2201,3186.5 L 2309,3126.6"/>
<path class="dd" d="M 1293,2598 L 2303.6,3182 L 2353,3154"/>
<path class="dd" d="M 1937,2211 L 2946.5,2809 L 2909,2824"/>
<path class="d" d="M 1900,2258 L 2706,2732"/>
<path class="d" d="M 1500,2037 L 1570,2078"/>
<path d="M 1571.4,2258.6 L 1591.1,2267.5 M 1567.5,2265 L 1588.7,2274.9 M 1571.4,2258.6 C 1566.5,2258.6 1565.5,2263.5 1567.5,2265"/>
<path class="b" d="M 1591.1,2265 L 1603.4,2266.5 L 1611.8,2274.9 L 1610.8,2287.2 L 1602,2292.1 L 1591.1,2289.7 L 1588.7,2277.3 Z"/>
<ellipse class="b" cx="1604.9" cy="2281.3" rx="7.4" ry="9.4"/>
<ellipse cx="1604.9" cy="2281.3" rx="3.9" ry="4.9"/>
<ellipse cx="1635.5" cy="2291.1" rx="18.7" ry="25.6" transform="rotate(15 1635.5 2291.1)"/>
<ellipse cx="1636.9" cy="2292.1" rx="14.8" ry="21.2" transform="rotate(15 1636.9 2292.1)"/>
<ellipse cx="1639.4" cy="2293.1" rx="8.9" ry="12.8" transform="rotate(15 1639.4 2293.1)"/>
<path class="dd" d="M 1566.5,2257.6 L 1541.9,2247.8"/>
<path d="M 1761,2325.9 C 1761,2311.1 1773.9,2305.5 1788.7,2306.7 L 1814.5,2309.2 C 1827.5,2311.1 1833,2320.3 1833,2333.3 L 1831.2,2373.9 C 1829.3,2386.8 1821.9,2392.4 1810.8,2392.4 L 1792.4,2390.5"/>
<path d="M 1764.7,2335.1 C 1768.3,2327.7 1777.6,2324 1788.7,2325.9 L 1810.8,2329.6 C 1821.9,2331.4 1827.5,2340.6 1825.6,2351.7"/>
<ellipse cx="1812.7" cy="2329.6" rx="6.7" ry="8.9" transform="rotate(-10 1812.7 2329.6)"/>
<path d="M 1761,2335.1 C 1733.3,2351.7 1716.6,2385 1715.5,2421.9 C 1715.1,2433 1715.9,2442.2 1717.7,2451.5"/>
<path d="M 1790.5,2388.7 C 1777.6,2396.1 1772,2410.8 1773.9,2429.3 C 1774.6,2438.5 1776.8,2445.9 1779.4,2451.5"/>
<path d="M 1807.1,2610.3 C 1821.9,2595.6 1836.7,2586.3 1847.8,2582.6 L 2091.6,2444.1 C 2106.4,2438.5 2117.5,2444.1 2124.9,2451.5 L 2139.6,2484.7"/>
<path d="M 1792.4,2806.2 C 1792.4,2780.3 1799.8,2743.3 1821.9,2706.4 C 1836.7,2680.5 1855.2,2665.8 1873.6,2654.7 L 2154.4,2484.7 C 2165.5,2481 2184,2488.4 2191.4,2499.5"/>
<path d="M 1796.8,2806.2 C 1796.8,2780.3 1804.2,2743.3 1826.4,2706.4 C 1841.1,2680.5 1859.6,2667.1 1878.1,2656.4 L 2155.3,2491.4 C 2166.4,2487.7 2184,2492.9 2191.4,2503.9"/>
<path d="M 1801.2,2806.2 C 1801.2,2780.3 1808.6,2743.3 1830.8,2706.4 C 1845.6,2680.5 1864,2668.4 1882.5,2658.2 L 2156.2,2498 C 2167.3,2494.3 2184,2497.3 2191.4,2508.4"/>
<path d="M 1792.4,2806.2 C 1794.2,2815.4 1803.4,2820.9 1818.2,2820.9 L 1873.6,2850.5"/>
<path d="M 1877.3,2857.9 C 1881,2817.2 1892.1,2791.4 1906.9,2776.6 C 1921.7,2761.8 1936.5,2743.3 1943.8,2732.3 L 2224.6,2558.6"/>
<path d="M 1877.3,2857.9 C 1882.9,2867.1 1892.1,2869 1906.9,2865.3 L 2189.2,2704.6 C 2196.9,2702.7 2202.5,2699.7 2205.4,2697.2 L 2227.9,2661.7 L 2249.7,2592.6 C 2253.4,2580.8 2253.1,2566 2246.8,2558.6 C 2239.4,2553.1 2232,2553.1 2225.7,2554.9"/>
<path d="M 2163.3,2504.3 L 2225.7,2554.9"/>
<path d="M 1950.1,2739.3 L 2232.4,2578.6 C 2241.2,2577.8 2247.5,2582.6 2248.6,2590.4"/>
<path d="M 1821.9,2817.2 L 1877.3,2857.9"/>
<path d="M 1999.3,2440.4 L 2028.8,2421.9 C 2034.4,2421.2 2038.1,2423.8 2038.1,2427.5 L 2038.1,2455.2 L 2006.6,2477.3 L 1997.4,2495.8 L 1997.4,2447.8 Z M 2006.6,2473.6 L 2006.6,2492.1"/>
<ellipse cx="2019.6" cy="2446.7" rx="5.5" ry="5.5"/>
<path class="dd" d="M 1954.9,2409 L 2003,2436.7 M 2025.1,2451.5 L 2047.3,2464.4"/>
<path class="b" d="M 2036.9,2457 L 2060.2,2468.1 M 2034.4,2462.6 L 2058.4,2473.6"/>
<ellipse class="b" cx="2069.5" cy="2473.6" rx="10.3" ry="9.2"/>
<ellipse cx="2071.3" cy="2474.4" rx="5.2" ry="4.8"/>
<ellipse class="f" cx="2214.3" cy="2658.4" rx="3.3" ry="2.5" transform="rotate(-30 2214.3 2658.4)"/>
<ellipse class="f" cx="2212.6" cy="2671.6" rx="3.3" ry="2.5" transform="rotate(-30 2212.6 2671.6)"/>
<ellipse class="f" cx="2207.8" cy="2683.5" rx="3.3" ry="2.5" transform="rotate(-30 2207.8 2683.5)"/>
<ellipse class="f" cx="2200.3" cy="2692.9" rx="3.3" ry="2.5" transform="rotate(-30 2200.3 2692.9)"/>
<ellipse class="f" cx="2190.8" cy="2699.0" rx="3.3" ry="2.5" transform="rotate(-30 2190.8 2699.0)"/>
<ellipse class="f" cx="2180.3" cy="2701.1" rx="3.3" ry="2.5" transform="rotate(-30 2180.3 2701.1)"/>
<ellipse class="f" cx="2169.8" cy="2699.0" rx="3.3" ry="2.5" transform="rotate(-30 2169.8 2699.0)"/>
<ellipse class="f" cx="2160.3" cy="2692.9" rx="3.3" ry="2.5" transform="rotate(-30 2160.3 2692.9)"/>
<ellipse class="f" cx="2152.8" cy="2683.5" rx="3.3" ry="2.5" transform="rotate(-30 2152.8 2683.5)"/>
<ellipse class="f" cx="2147.9" cy="2671.6" rx="3.3" ry="2.5" transform="rotate(-30 2147.9 2671.6)"/>
<ellipse class="f" cx="2146.3" cy="2658.4" rx="3.3" ry="2.5" transform="rotate(-30 2146.3 2658.4)"/>
<ellipse class="f" cx="2147.9" cy="2645.2" rx="3.3" ry="2.5" transform="rotate(-30 2147.9 2645.2)"/>
<ellipse class="f" cx="2152.8" cy="2633.3" rx="3.3" ry="2.5" transform="rotate(-30 2152.8 2633.3)"/>
<ellipse class="f" cx="2160.3" cy="2623.8" rx="3.3" ry="2.5" transform="rotate(-30 2160.3 2623.8)"/>
<ellipse class="f" cx="2169.8" cy="2617.7" rx="3.3" ry="2.5" transform="rotate(-30 2169.8 2617.7)"/>
<ellipse class="f" cx="2180.3" cy="2615.6" rx="3.3" ry="2.5" transform="rotate(-30 2180.3 2615.6)"/>
<ellipse class="f" cx="2190.8" cy="2617.7" rx="3.3" ry="2.5" transform="rotate(-30 2190.8 2617.7)"/>
<ellipse class="f" cx="2200.3" cy="2623.8" rx="3.3" ry="2.5" transform="rotate(-30 2200.3 2623.8)"/>
<ellipse class="f" cx="2207.8" cy="2633.3" rx="3.3" ry="2.5" transform="rotate(-30 2207.8 2633.3)"/>
<ellipse class="f" cx="2212.6" cy="2645.2" rx="3.3" ry="2.5" transform="rotate(-30 2212.6 2645.2)"/>
<ellipse class="f" cx="2206.8" cy="2663.4" rx="3.3" ry="2.5" transform="rotate(-30 2206.8 2663.4)"/>
<ellipse class="f" cx="2203.2" cy="2675.8" rx="3.3" ry="2.5" transform="rotate(-30 2203.2 2675.8)"/>
<ellipse class="f" cx="2196.2" cy="2685.5" rx="3.3" ry="2.5" transform="rotate(-30 2196.2 2685.5)"/>
<ellipse class="f" cx="2186.7" cy="2691.1" rx="3.3" ry="2.5" transform="rotate(-30 2186.7 2691.1)"/>
<ellipse class="f" cx="2176.3" cy="2691.7" rx="3.3" ry="2.5" transform="rotate(-30 2176.3 2691.7)"/>
<ellipse class="f" cx="2166.4" cy="2687.2" rx="3.3" ry="2.5" transform="rotate(-30 2166.4 2687.2)"/>
<ellipse class="f" cx="2158.7" cy="2678.4" rx="3.3" ry="2.5" transform="rotate(-30 2158.7 2678.4)"/>
<ellipse class="f" cx="2154.3" cy="2666.5" rx="3.3" ry="2.5" transform="rotate(-30 2154.3 2666.5)"/>
<ellipse class="f" cx="2153.8" cy="2653.3" rx="3.3" ry="2.5" transform="rotate(-30 2153.8 2653.3)"/>
<ellipse class="f" cx="2157.3" cy="2641.0" rx="3.3" ry="2.5" transform="rotate(-30 2157.3 2641.0)"/>
<ellipse class="f" cx="2164.4" cy="2631.3" rx="3.3" ry="2.5" transform="rotate(-30 2164.4 2631.3)"/>
<ellipse class="f" cx="2173.8" cy="2625.7" rx="3.3" ry="2.5" transform="rotate(-30 2173.8 2625.7)"/>
<ellipse class="f" cx="2184.3" cy="2625.1" rx="3.3" ry="2.5" transform="rotate(-30 2184.3 2625.1)"/>
<ellipse class="f" cx="2194.1" cy="2629.5" rx="3.3" ry="2.5" transform="rotate(-30 2194.1 2629.5)"/>
<ellipse class="f" cx="2201.9" cy="2638.4" rx="3.3" ry="2.5" transform="rotate(-30 2201.9 2638.4)"/>
<ellipse class="f" cx="2206.3" cy="2650.3" rx="3.3" ry="2.5" transform="rotate(-30 2206.3 2650.3)"/>
<ellipse class="f" cx="2199.0" cy="2665.6" rx="3.3" ry="2.5" transform="rotate(-30 2199.0 2665.6)"/>
<ellipse class="f" cx="2192.9" cy="2677.2" rx="3.3" ry="2.5" transform="rotate(-30 2192.9 2677.2)"/>
<ellipse class="f" cx="2182.8" cy="2682.8" rx="3.3" ry="2.5" transform="rotate(-30 2182.8 2682.8)"/>
<ellipse class="f" cx="2171.9" cy="2680.6" rx="3.3" ry="2.5" transform="rotate(-30 2171.9 2680.6)"/>
<ellipse class="f" cx="2163.7" cy="2671.4" rx="3.3" ry="2.5" transform="rotate(-30 2163.7 2671.4)"/>
<ellipse class="f" cx="2160.7" cy="2658.0" rx="3.3" ry="2.5" transform="rotate(-30 2160.7 2658.0)"/>
<ellipse class="f" cx="2164.0" cy="2644.8" rx="3.3" ry="2.5" transform="rotate(-30 2164.0 2644.8)"/>
<ellipse class="f" cx="2172.4" cy="2635.8" rx="3.3" ry="2.5" transform="rotate(-30 2172.4 2635.8)"/>
<ellipse class="f" cx="2183.4" cy="2634.1" rx="3.3" ry="2.5" transform="rotate(-30 2183.4 2634.1)"/>
<ellipse class="f" cx="2193.3" cy="2640.0" rx="3.3" ry="2.5" transform="rotate(-30 2193.3 2640.0)"/>
<ellipse class="f" cx="2199.2" cy="2651.8" rx="3.3" ry="2.5" transform="rotate(-30 2199.2 2651.8)"/>
<ellipse cx="2232" cy="2595.6" rx="3" ry="4.4" transform="rotate(20 2232 2595.6)"/>
<ellipse cx="2151.5" cy="2641.7" rx="3" ry="4.4" transform="rotate(20 2151.5 2641.7)"/>
<ellipse cx="2210.6" cy="2673.1" rx="3" ry="4.4" transform="rotate(20 2210.6 2673.1)"/>
<ellipse cx="2130.4" cy="2720.4" rx="3" ry="4.4" transform="rotate(20 2130.4 2720.4)"/>
<path class="dd" d="M 2158.1,2647.3 L 2209.8,2691.6"/>
<path class="d" d="M 2239.4,2601.1 L 2300,2643.6"/>
<path d="M 2384.9,2920 C 2382.5,2910.4 2390.5,2902.4 2402.5,2898.4 L 2450.5,2878.3 C 2482.5,2886.3 2498.5,2902.4 2522.6,2900.8 L 2690.7,2823.9 L 2694.7,2746.3 L 2762.7,2706.2 C 2778.7,2702.2 2790.7,2706.2 2802.7,2714.2 L 2922.8,2810.3 C 2938.8,2822.3 2946.8,2838.3 2945.2,2862.3 L 2913.2,3014.4 C 2906.8,3026.4 2894.8,3034.4 2879.6,3038.4 L 2506.5,3270.6 C 2482.5,3274.6 2458.5,3270.6 2450.5,3254.6"/>
<path d="M 2874.8,3046.4 L 2506.5,3278.6"/>
<path d="M 2384.9,2920 L 2386.5,2942.4 C 2390.5,2958.4 2402.5,2966.4 2418.5,2966.4 L 2498.5,3054.5 C 2514.6,3062.5 2530.6,3062.5 2538.6,3054.5 L 2938.8,2846.3"/>
<path d="M 2802.7,2714.2 C 2834.8,2726.2 2850.8,2750.3 2858.8,2758.3 L 2906.8,2790.3 M 2898.8,2798.3 L 2930.8,2830.3 M 2922.8,2814.3 C 2906.8,2822.3 2898.8,2830.3 2898.8,2838.3"/>
<path d="M 2416.4,2969.4 L 2399.1,2997.4 L 2375.4,3090.1 M 2399.1,3001.7 L 2515.5,3057.8 M 2375.4,3090.1 L 2465.9,3163.4 L 2465.9,3187.1 L 2450.9,3251.7"/>
<path d="M 2515.5,3057.8 C 2534.9,3066.4 2545.7,3087.9 2543.5,3113.8 L 2506.9,3260.3 C 2502.6,3269 2496.1,3273.3 2489.7,3273.3 L 2450.9,3253.9"/>
<path d="M 2304.3,3120.3 C 2304.3,3105.2 2312.9,3075 2319.4,3070.7 L 2369,3107.3 M 2304.3,3120.3 L 2450.9,3251.7 M 2315.1,3126.7 L 2457.3,3249.6 M 2375.4,3090.1 L 2369,3107.3"/>
<ellipse class="b" cx="2330.2" cy="3113.8" rx="19.4" ry="20.4"/>
<ellipse cx="2330.2" cy="3113.8" rx="13.8" ry="14.5"/>
<ellipse cx="2330.2" cy="3113.8" rx="8.6" ry="9.1"/>
<ellipse cx="2330.2" cy="3113.8" rx="3.4" ry="3.6"/>
<ellipse class="b" cx="2433.6" cy="3105.2" rx="18.1" ry="19"/>
<ellipse cx="2433.6" cy="3105.2" rx="13.8" ry="14.5"/>
<ellipse cx="2433.6" cy="3105.2" rx="7.8" ry="8.1"/>
<ellipse cx="2433.6" cy="3105.2" rx="3" ry="3.2"/>
<ellipse cx="2407.8" cy="3027.6" rx="3.9" ry="5.2"/>
<ellipse cx="2461.6" cy="3075" rx="3.9" ry="5.2"/>
<path class="dd" d="M 2300,3178.4 L 2433.6,3105.2"/>
<path d="M 2559.9,3118.4 L 2588,3101.6 C 2596,3096.8 2599.2,3105.6 2591.2,3110.4 L 2563.1,3127.2 C 2555.1,3132 2551.9,3123.2 2559.9,3118.4 Z"/>
<path d="M 2606.8,3090.1 L 2634.8,3073.3 C 2642.8,3068.5 2646,3077.3 2638,3082.1 L 2610,3098.9 C 2602,3103.7 2598.8,3094.9 2606.8,3090.1 Z"/>
<path d="M 2653.6,3061.7 L 2681.6,3044.9 C 2689.6,3040.1 2692.8,3048.9 2684.8,3053.7 L 2656.8,3070.5 C 2648.8,3075.3 2645.6,3066.5 2653.6,3061.7 Z"/>
<path d="M 2700.4,3033.4 L 2728.5,3016.6 C 2736.5,3011.8 2739.7,3020.6 2731.7,3025.4 L 2703.6,3042.2 C 2695.6,3047 2692.4,3038.2 2700.4,3033.4 Z"/>
<path d="M 2747.3,3005.1 L 2775.3,2988.2 C 2783.3,2983.4 2786.5,2992.3 2778.5,2997.1 L 2750.5,3013.9 C 2742.5,3018.7 2739.3,3009.9 2747.3,3005.1 Z"/>
<path d="M 2794.1,2976.7 L 2822.1,2959.9 C 2830.1,2955.1 2833.3,2963.9 2825.3,2968.7 L 2797.3,2985.5 C 2789.3,2990.3 2786.1,2981.5 2794.1,2976.7 Z"/>
<path d="M 2840.9,2948.4 L 2868.9,2931.6 C 2876.9,2926.8 2880.1,2935.6 2872.1,2940.4 L 2844.1,2957.2 C 2836.1,2962 2832.9,2953.2 2840.9,2948.4 Z"/>
<path d="M 2887.8,2920 L 2915.8,2903.2 C 2923.8,2898.4 2927,2907.2 2919,2912 L 2891,2928.9 C 2882.9,2933.7 2879.7,2924.8 2887.8,2920 Z"/>
<path d="M 2551.9,3148.6 L 2579.9,3131.8 C 2587.9,3127 2591.1,3135.8 2583.1,3140.6 L 2555.1,3157.4 C 2547.1,3162.2 2543.9,3153.4 2551.9,3148.6 Z"/>
<path d="M 2598.7,3120.3 L 2626.7,3103.4 C 2634.7,3098.6 2637.9,3107.4 2629.9,3112.2 L 2601.9,3129.1 C 2593.9,3133.9 2590.7,3125.1 2598.7,3120.3 Z"/>
<path d="M 2645.5,3091.9 L 2673.5,3075.1 C 2681.5,3070.3 2684.7,3079.1 2676.7,3083.9 L 2648.7,3100.7 C 2640.7,3105.5 2637.5,3096.7 2645.5,3091.9 Z"/>
<path d="M 2692.3,3063.6 L 2720.4,3046.8 C 2728.4,3042 2731.6,3050.8 2723.6,3055.6 L 2695.5,3072.4 C 2687.5,3077.2 2684.3,3068.4 2692.3,3063.6 Z"/>
<path d="M 2739.2,3035.2 L 2767.2,3018.4 C 2775.2,3013.6 2778.4,3022.4 2770.4,3027.2 L 2742.4,3044 C 2734.4,3048.8 2731.2,3040 2739.2,3035.2 Z"/>
<path d="M 2786,3006.9 L 2814,2990.1 C 2822,2985.3 2825.2,2994.1 2817.2,2998.9 L 2789.2,3015.7 C 2781.2,3020.5 2778,3011.7 2786,3006.9 Z"/>
<path d="M 2832.8,2978.6 L 2860.9,2961.8 C 2868.9,2956.9 2872.1,2965.8 2864.1,2970.6 L 2836,2987.4 C 2828,2992.2 2824.8,2983.4 2832.8,2978.6 Z"/>
<path d="M 2879.7,2950.2 L 2907.7,2933.4 C 2915.7,2928.6 2918.9,2937.4 2910.9,2942.2 L 2882.9,2959 C 2874.9,2963.8 2871.7,2955 2879.7,2950.2 Z"/>
<path d="M 2543.8,3178.8 L 2571.8,3162 C 2579.8,3157.2 2583,3166 2575,3170.8 L 2547,3187.6 C 2539,3192.4 2535.8,3183.6 2543.8,3178.8 Z"/>
<path d="M 2590.6,3150.4 L 2618.6,3133.6 C 2626.6,3128.8 2629.8,3137.6 2621.8,3142.4 L 2593.8,3159.2 C 2585.8,3164 2582.6,3155.2 2590.6,3150.4 Z"/>
<path d="M 2637.4,3122.1 L 2665.4,3105.3 C 2673.5,3100.5 2676.7,3109.3 2668.7,3114.1 L 2640.6,3130.9 C 2632.6,3135.7 2629.4,3126.9 2637.4,3122.1 Z"/>
<path d="M 2684.3,3093.8 L 2712.3,3076.9 C 2720.3,3072.1 2723.5,3080.9 2715.5,3085.8 L 2687.5,3102.6 C 2679.5,3107.4 2676.3,3098.6 2684.3,3093.8 Z"/>
<path d="M 2731.1,3065.4 L 2759.1,3048.6 C 2767.1,3043.8 2770.3,3052.6 2762.3,3057.4 L 2734.3,3074.2 C 2726.3,3079 2723.1,3070.2 2731.1,3065.4 Z"/>
<path d="M 2777.9,3037.1 L 2805.9,3020.3 C 2813.9,3015.5 2817.1,3024.3 2809.1,3029.1 L 2781.1,3045.9 C 2773.1,3050.7 2769.9,3041.9 2777.9,3037.1 Z"/>
<path d="M 2824.8,3008.7 L 2852.8,2991.9 C 2860.8,2987.1 2864,2995.9 2856,3000.7 L 2828,3017.5 C 2819.9,3022.4 2816.7,3013.5 2824.8,3008.7 Z"/>
<path d="M 2871.6,2980.4 L 2899.6,2963.6 C 2907.6,2958.8 2910.8,2967.6 2902.8,2972.4 L 2874.8,2989.2 C 2866.8,2994 2863.6,2985.2 2871.6,2980.4 Z"/>
<path d="M 2535.7,3208.9 L 2563.7,3192.1 C 2571.7,3187.3 2574.9,3196.1 2566.9,3200.9 L 2538.9,3217.8 C 2530.9,3222.6 2527.7,3213.8 2535.7,3208.9 Z"/>
<path d="M 2582.5,3180.6 L 2610.5,3163.8 C 2618.5,3159 2621.7,3167.8 2613.7,3172.6 L 2585.7,3189.4 C 2577.7,3194.2 2574.5,3185.4 2582.5,3180.6 Z"/>
<path d="M 2629.3,3152.3 L 2657.4,3135.5 C 2665.4,3130.7 2668.6,3139.5 2660.6,3144.3 L 2632.5,3161.1 C 2624.5,3165.9 2621.3,3157.1 2629.3,3152.3 Z"/>
<path d="M 2676.2,3123.9 L 2704.2,3107.1 C 2712.2,3102.3 2715.4,3111.1 2707.4,3115.9 L 2679.4,3132.7 C 2671.4,3137.5 2668.2,3128.7 2676.2,3123.9 Z"/>
<path d="M 2723,3095.6 L 2751,3078.8 C 2759,3074 2762.2,3082.8 2754.2,3087.6 L 2726.2,3104.4 C 2718.2,3109.2 2715,3100.4 2723,3095.6 Z"/>
<path d="M 2769.8,3067.3 L 2797.9,3050.4 C 2805.9,3045.6 2809.1,3054.5 2801.1,3059.3 L 2773,3076.1 C 2765,3080.9 2761.8,3072.1 2769.8,3067.3 Z"/>
<path d="M 2816.7,3038.9 L 2844.7,3022.1 C 2852.7,3017.3 2855.9,3026.1 2847.9,3030.9 L 2819.9,3047.7 C 2811.9,3052.5 2808.7,3043.7 2816.7,3038.9 Z"/>
<path d="M 2863.5,3010.6 L 2891.5,2993.8 C 2899.5,2989 2902.7,2997.8 2894.7,3002.6 L 2866.7,3019.4 C 2858.7,3024.2 2855.5,3015.4 2863.5,3010.6 Z"/>
<path d="M 2527.6,3239.1 L 2555.6,3222.3 C 2563.6,3217.5 2566.8,3226.3 2558.8,3231.1 L 2530.8,3247.9 C 2522.8,3252.7 2519.6,3243.9 2527.6,3239.1 Z"/>
<path d="M 2574.4,3210.8 L 2602.4,3194 C 2610.5,3189.2 2613.7,3198 2605.7,3202.8 L 2577.6,3219.6 C 2569.6,3224.4 2566.4,3215.6 2574.4,3210.8 Z"/>
<path d="M 2621.3,3182.5 L 2649.3,3165.6 C 2657.3,3160.8 2660.5,3169.6 2652.5,3174.4 L 2624.5,3191.3 C 2616.5,3196.1 2613.3,3187.3 2621.3,3182.5 Z"/>
<path d="M 2668.1,3154.1 L 2696.1,3137.3 C 2704.1,3132.5 2707.3,3141.3 2699.3,3146.1 L 2671.3,3162.9 C 2663.3,3167.7 2660.1,3158.9 2668.1,3154.1 Z"/>
<path d="M 2714.9,3125.8 L 2742.9,3109 C 2750.9,3104.2 2754.1,3113 2746.1,3117.8 L 2718.1,3134.6 C 2710.1,3139.4 2706.9,3130.6 2714.9,3125.8 Z"/>
<path d="M 2761.8,3097.4 L 2789.8,3080.6 C 2797.8,3075.8 2801,3084.6 2793,3089.4 L 2765,3106.2 C 2756.9,3111 2753.7,3102.2 2761.8,3097.4 Z"/>
<path d="M 2808.6,3069.1 L 2836.6,3052.3 C 2844.6,3047.5 2847.8,3056.3 2839.8,3061.1 L 2811.8,3077.9 C 2803.8,3082.7 2800.6,3073.9 2808.6,3069.1 Z"/>
<path d="M 2855.4,3040.8 L 2883.4,3024 C 2891.4,3019.1 2894.6,3028 2886.6,3032.8 L 2858.6,3049.6 C 2850.6,3054.4 2847.4,3045.6 2855.4,3040.8 Z"/>
<path class="ph" d="M 1647.1,1927.5 L 1666.5,1913.6 L 1677.6,1902.5 L 1721.9,1919.2 L 1794,1960.7 L 1954.7,2038.3 C 1971.3,2041.1 1987.9,2032.8 1996.3,2018.9 L 2010.1,1971.8 C 2015.7,1963.5 2032.3,1960.7 2040.6,1966.3 L 2054.4,1988.4 L 2037.8,2016.1 L 2032.3,2032.8 L 2048.9,2038.3 L 2082.2,2032.8 L 2073.8,1999.5 L 2087.7,1996.7 L 2101.6,2010.6 L 2109.9,2043.8 L 2109.9,2110.4 L 2098.8,2132.5 L 2043.4,2182.4 L 1932.5,2365.3 C 1924.2,2373.6 1910.4,2373.6 1902,2370.8 L 1877.1,2332 L 1877.1,2298.8 L 1893.7,2271.1 L 1893.7,2221.2 L 1882.6,2132.5 L 1866,2066 L 1849.4,2052.2 L 1777.3,2027.2 L 1766.3,2032.8 L 1766.3,2077.1 L 1755.2,2085.4 L 1710.8,2068.8 L 1672,2032.8 L 1661,1999.5 L 1649.9,1971.8 Z"/>
<path class="ph" d="M 1669.3,1908.1 L 1960.2,2043.8 M 1716.4,1933 L 2098.8,2115.9"/>
<path class="ph" d="M 1796.7,2176.9 L 1868.8,2132.5 L 1879.9,2132.5 L 1891,2210.1 L 1838.3,2243.4 L 1813.4,2251.7 L 1799.5,2243.4 Z"/>
<path class="d" d="M 1805.1,2179.6 L 1807.8,2243.4 M 1871.6,2138.1 L 1879.9,2207.3"/>
<ellipse class="d" cx="1824.5" cy="2190.7" rx="10" ry="13.9" transform="rotate(20 1824.5 2190.7)"/>
<ellipse class="d" cx="1907.6" cy="2066" rx="22.2" ry="27.7"/>
<ellipse class="d" cx="1899.3" cy="2066" rx="6.7" ry="7.8"/>
<ellipse class="d" cx="1946.4" cy="2151.9" rx="30.5" ry="38.8"/>
<ellipse class="d" cx="1938.1" cy="2154.7" rx="13.9" ry="16.6"/>
<ellipse class="d" cx="1938.1" cy="2154.7" rx="5.5" ry="6.7"/>
<ellipse class="d" cx="2037.8" cy="2149.1" rx="22.2" ry="30.5"/>
<ellipse class="d" cx="1666.5" cy="1949.6" rx="6.7" ry="8.3"/>
<ellipse class="d" cx="1685.9" cy="2013.4" rx="6.7" ry="8.3"/>
<ellipse class="d" cx="1733" cy="2052.2" rx="6.7" ry="8.3"/>
<ellipse class="d" cx="1907.6" cy="2102" rx="6.7" ry="8.3"/>
<ellipse class="d" cx="1907.6" cy="2179.6" rx="6.7" ry="8.3"/>
<ellipse class="d" cx="1999" cy="2052.2" rx="6.7" ry="8.3"/>
<ellipse class="d" cx="1993.5" cy="2196.3" rx="6.7" ry="8.3"/>
<ellipse class="d" cx="1938.1" cy="2229.5" rx="6.7" ry="8.3"/>
<ellipse class="d" cx="1902" cy="2334.8" rx="6.7" ry="8.3"/>
<path class="ph" d="M 2037.8,2016.1 C 2037.8,2032.8 2054.4,2038.3 2065.5,2038.3 L 2076.6,2043.8 L 2082.2,2077.1 C 2076.6,2082.6 2071.1,2079.9 2068.3,2074.3 L 2060,2043.8"/>
<path d="M 1832.8,2218.4 L 1877.1,2193.5 M 1938.1,2212.9 L 1987.9,2187.9 M 1838.3,2215.7 L 1854.9,2229.5"/>
<path class="dd" d="M 1910.4,2182.4 L 2037.8,2143.6"/>
<path class="dd" d="M 2109.9,2110.4 L 2209.6,2049.4"/>
<path class="b" d="M 2118.2,2046.6 L 2123.7,2060.5 M 2120.9,2038.3 L 2145.9,2035.5 L 2147.6,2049.4 L 2123.7,2060.5"/>
<ellipse class="b" cx="2134.8" cy="2043.8" rx="10" ry="11.1"/>
<path d="M 2212.4,2052.2 L 2231.8,2038.3 M 2215.2,2057.7 L 2237.3,2046.6"/>
<ellipse class="b" cx="2237.3" cy="2046.6" rx="8.3" ry="10"/>
<path d="M 1718.8,2450 C 1726.2,2467.2 1736.1,2489.4 1738.5,2504.2 C 1739.8,2514 1737.3,2521.4 1734.8,2526.4"/>
<path d="M 1780.4,2450 C 1787.8,2467.2 1796.4,2486.9 1797.6,2509.1 C 1798.9,2528.8 1792.7,2541.1 1787.8,2551 L 1776.7,2580.5 C 1774.2,2595.3 1777.9,2610.1 1787.8,2620"/>
<path d="M 1721.3,2461.1 C 1738.5,2458.6 1755.8,2454.9 1765.6,2450 M 1738.5,2491.9 C 1758.2,2486.9 1777.9,2479.6 1790.2,2472.2"/>
<path d="M 1739.8,2538.7 C 1745.9,2546.1 1758.2,2552.2 1773,2552.2 C 1780.4,2552.2 1785.3,2551 1790.2,2548.5 M 1753.3,2591.6 C 1763.2,2592.9 1770.5,2589.2 1775.5,2583"/>
<path d="M 1734.8,2523.9 L 1718.8,2568.2 C 1715.1,2583 1716.4,2602.7 1721.3,2620 C 1726.2,2637.2 1733.6,2649.5 1736.1,2654.4 L 1748.4,2716 C 1744.7,2728.3 1744.7,2740.6 1750.8,2753 L 1782.9,2787.4"/>
<path d="M 1734.8,2531.3 L 1768.1,2666.7 M 1738.5,2533.7 L 1764.4,2659.4 M 1733.6,2533.7 L 1721.3,2568.2 M 1765.6,2671.7 L 1797.6,2745.6 M 1768.1,2666.7 L 1812.4,2703.7 M 1763.2,2661.8 L 1748.4,2716 M 1748.4,2716 L 1782.9,2787.4 M 1753.3,2720.9 L 1785.3,2789.9"/>
<path d="M 1797.6,2745.6 L 1787.8,2789.9 M 1801.3,2743.1 L 1790.2,2792.4 M 1787.8,2789.9 C 1790.2,2804.7 1797.6,2814.5 1812.4,2819.5 L 1822.3,2819.5"/>
<path class="b" d="M 1765.6,2659.4 C 1773,2637.2 1787.8,2617.5 1807.5,2610.1 L 1844.4,2581.8 L 1910.9,2552.2 C 1915.9,2551 1918.3,2553.4 1920.8,2555.9 L 1972.5,2526.4 C 1977.4,2511.6 1984.8,2509.1 1997.1,2509.1 L 2040,2484.5"/>
<path d="M 1807.5,2610.1 L 1861.7,2654.4 M 1814.9,2716 L 1896.2,2780 M 1812.4,2799.8 L 1874,2850"/>
<path d="M 1844.4,2581.8 L 1881.4,2605.2 C 1886.3,2607.6 1901.1,2607.6 1908.5,2606.4 L 1960.2,2587.9 M 1851.8,2580.5 L 1883.8,2603.9 M 1910.9,2553.4 L 1962.7,2583 M 1918.3,2558.4 L 1967.6,2583"/>
<path d="M 1915.9,2552.2 L 1965.1,2528.8 M 1920.8,2557.1 L 1970,2533.7 M 1972.5,2526.4 C 1984.8,2531.3 1997.1,2538.7 2004.5,2543.6 L 2024.2,2543.6 M 1979.9,2511.6 C 1989.8,2519 1992.2,2528.8 1994.7,2536.2 M 1984.8,2516.5 C 2009.5,2523.9 2014.4,2531.3 2019.3,2541.1"/>
<path d="M 1874,2666.7 L 1935.6,2723.4 C 1940.5,2728.3 1944.2,2735.7 1946.7,2743.1 L 2040,2681.5 M 1866.6,2649.5 L 2040,2548.5"/>
<path d="M 1938,2720.9 C 1923.3,2728.3 1906,2757.9 1901.1,2777.6 L 1876.5,2850 M 1898.6,2780 C 1906,2785 1913.4,2782.5 1918.3,2780 L 2040,2708.6"/>
<path d="M 1935.6,2850 L 2040,2794.8 M 1938,2850 L 2040,2797.3"/>
<path d="M 1979.9,2509.1 L 2040,2477.1 M 1999.6,2474.6 L 2007,2489.4 L 2040,2464.8 M 1999.6,2496.8 L 1999.6,2450"/>
<path d="M 1980.8,2512.4 C 1980.8,2521.7 1988.2,2530.9 2014,2536.5 L 2025.1,2543.8 M 1980.8,2512.4 L 2021.4,2506.9 L 2076.8,2488.4 C 2082.4,2490.3 2082.4,2499.5 2076.8,2506.9 L 2028.8,2543.8"/>
<path d="M 1988.2,2518 C 1995.6,2521.7 2006.6,2525.4 2017.7,2525.4 M 1995.6,2510.6 C 1999.3,2521.7 2006.6,2529.1 2021.4,2536.5"/>
<path d="M 2175.9,2772.9 L 2200.5,2702.7 C 2206.7,2687.9 2223.9,2665.8 2243.6,2653.4 C 2258.4,2644.8 2273.2,2638.7 2287.9,2638.7 L 2295.3,2646.1 L 2291.6,2653.4"/>
<path d="M 2175.9,2772.9 L 2186.9,2779.1 L 2209.1,2775.4"/>
<ellipse class="b" cx="2243.6" cy="2712.6" rx="50.5" ry="71.4" transform="rotate(33 2243.6 2712.6)"/>
<ellipse cx="2249.8" cy="2717.5" rx="41.9" ry="61.6" transform="rotate(33 2249.8 2717.5)"/>
<ellipse cx="2254.7" cy="2722.4" rx="36.9" ry="56.2" transform="rotate(33 2254.7 2722.4)"/>
<path class="b" d="M 2284.2,2654.7 L 2370.4,2608.6 L 2393.8,2627.6 L 2303.9,2676.8 Z"/>
<path d="M 2287.9,2651 L 2371.7,2612.1"/>
<path d="M 2393.8,2627.6 L 2392.6,2635 L 2382.8,2683 L 2290.4,2733.5 L 2284.2,2739.7"/>
<path d="M 2303.9,2676.8 L 2303.9,2684.2 L 2382.8,2684.2"/>
<ellipse class="b" cx="2289.2" cy="2647.3" rx="3.7" ry="3.2"/>
<ellipse cx="2207.9" cy="2694.1" rx="3.7" ry="3.2"/>
<ellipse cx="2186.9" cy="2771.7" rx="3" ry="2.5"/>
<path class="d" d="M 2235,2599.3 L 2280.5,2638.7 M 2287.9,2653.4 L 2366.7,2745.8 M 2174.6,2658.4 L 2233.7,2717.5 M 2320,2703.9 L 2366.7,2747"/>
<path class="b" d="M 2388.9,2739.7 L 2392.6,2734.2 L 2400,2734.7 L 2404.2,2740.9 L 2400.7,2747.5 L 2393.3,2748.3 Z"/>
<ellipse cx="2396.3" cy="2742.1" rx="3" ry="3.4"/>
<path d="M 2390.9,2736.7 L 2381.5,2727.3 M 2394.3,2734.7 L 2383.5,2724.9 M 2381.5,2727.3 L 2379.1,2723.2 L 2383.5,2724.9"/>
<path d="M 2379.1,2723.2 L 2352,2699"/>
<path class="b" d="M 2307.6,2786.5 L 2311.3,2781 L 2318.7,2781.5 L 2322.9,2787.7 L 2319.5,2794.3 L 2312.1,2795.1 Z"/>
<ellipse cx="2315" cy="2788.9" rx="3" ry="3.4"/>
<path d="M 2309.6,2783.5 L 2300.2,2774.1 M 2313.1,2781.5 L 2302.2,2771.7 M 2300.2,2774.1 L 2297.8,2770 L 2302.2,2771.7"/>
<path d="M 2297.8,2770 L 2270.7,2745.8"/>
<path class="b" d="M 2366.7,2816 L 2370.4,2810.6 L 2377.8,2811.1 L 2382,2817.2 L 2378.6,2823.9 L 2371.2,2824.6 Z"/>
<ellipse cx="2374.1" cy="2818.5" rx="3" ry="3.4"/>
<path d="M 2368.7,2813.1 L 2360.6,2804.9 M 2372.2,2811.1 L 2362.6,2802.5 M 2360.6,2804.9 L 2358.1,2800.7 L 2362.6,2802.5"/>
<path d="M 2358.1,2800.7 L 2331,2776.6"/>
<path d="M 2386.5,2655.9 L 2459.1,2655.9"/>
<path class="b" d="M 2285,2866 L 2288,2861 L 2296,2862 L 2300,2868 L 2296,2874 L 2289,2875 Z"/>
<ellipse cx="2292" cy="2869" rx="3" ry="3.5"/>
<path d="M 2287,2863 L 2278,2854 M 2291,2861 L 2282,2851 M 2278,2854 L 2274,2847 L 2282,2851"/>
<path class="d" d="M 2140,2730 L 2272,2848"/>
</svg>
<div class="t">E3-04366D-01</div>
</div></body></html>
